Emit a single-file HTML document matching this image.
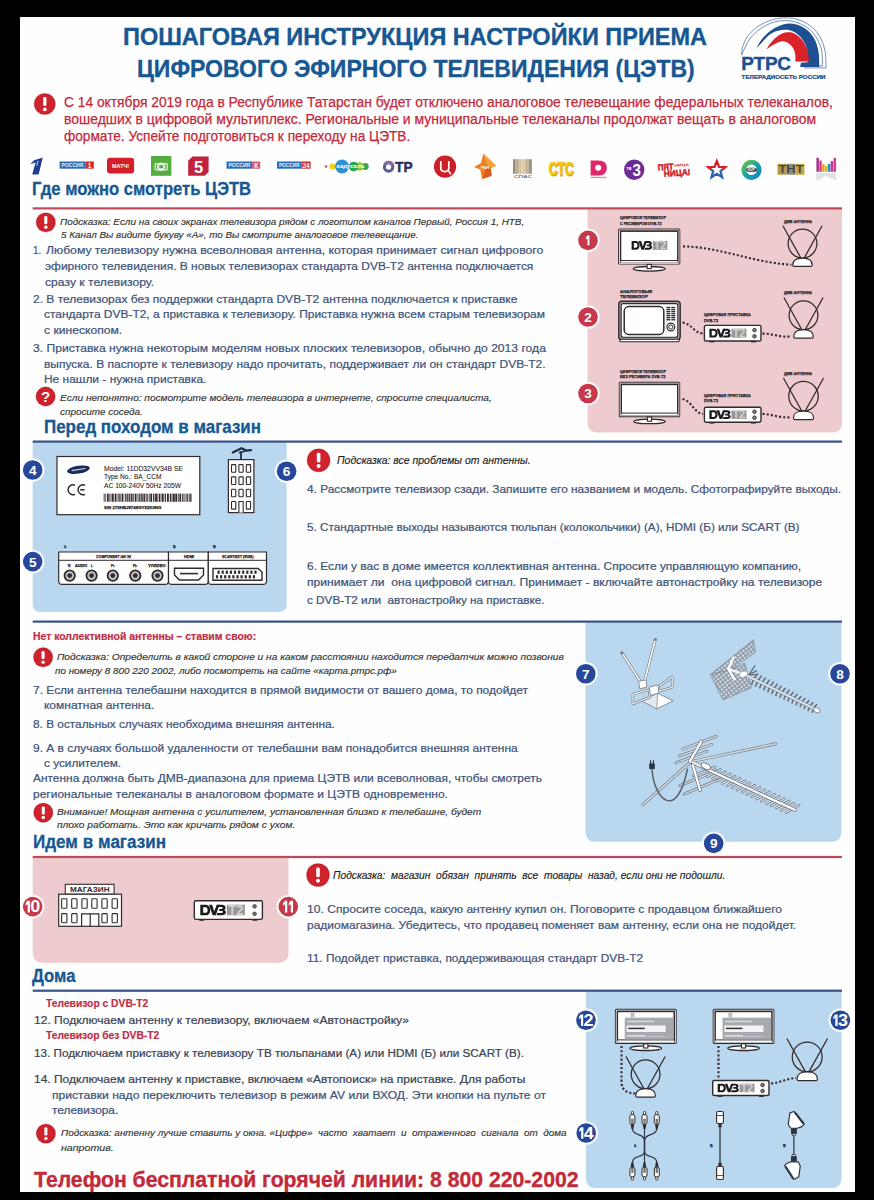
<!DOCTYPE html><html lang="ru"><head><meta charset="utf-8"><title>Пошаговая инструкция настройки приема ЦЭТВ</title><style>
html,body{margin:0;padding:0;background:#000}
body{width:874px;height:1200px;position:relative;overflow:hidden;font-family:"Liberation Sans",sans-serif}
#pg{position:absolute;left:19.5px;top:17px;width:835.5px;height:1174.5px;background:#fefefe}
.t{position:absolute;white-space:pre;line-height:1;transform-origin:0 0;margin:0}
</style></head><body><div id="pg"></div>
<svg width="874" height="1200" viewBox="0 0 874 1200" style="position:absolute;left:0;top:0" font-family="Liberation Sans, sans-serif"><path d="M587.5,208.4H842V422.4Q842,432.4 832,432.4H597.5Q587.5,432.4 587.5,422.4Z" fill="#eecbcf"/><path d="M32.7,441.5H286.6V604Q286.6,612 278.6,612H40.7Q32.7,612 32.7,604Z" fill="#b9d7ef"/><path d="M585.5,621.6H841.4V831.8Q841.4,841.8 831.4,841.8H595.5Q585.5,841.8 585.5,831.8Z" fill="#b9d7ef"/><path d="M32.7,857H288.5V952.8Q288.5,962.8 278.5,962.8H42.7Q32.7,962.8 32.7,952.8Z" fill="#eecbcf"/><path d="M586,990.7H841.6V1178Q841.6,1188 831.6,1188H596Q586,1188 586,1178Z" fill="#b9d7ef"/><rect x="32.7" y="207.3" width="809.3" height="2.2" fill="#bd4a5a"/><rect x="32.7" y="440.5" width="809.3" height="2.2" fill="#3a5288"/><rect x="32.7" y="620.5" width="809.3" height="2.2" fill="#3a5288"/><rect x="32.7" y="855.9" width="809.3" height="2.2" fill="#bd4a5a"/><rect x="32.7" y="989.6" width="809.3" height="2.2" fill="#3a5288"/><g transform="translate(0,0.6)"><path d="M34.2,159.6L42.8,156.8L38.6,173.8H32.2L35.6,161.8L30.2,163.6Z" fill="#1c3f90"/><path d="M36.6,165.2L38.2,160.2" stroke="#fff" stroke-width="0.8"/><rect x="59.6" y="160.9" width="25.800000000000004" height="7.2" fill="#2b6cb4"/><rect x="85.4" y="160.9" width="8.399999999999991" height="7.2" fill="#d12b2b"/><text x="61.6" y="166.6" font-size="4.6" font-weight="bold" font-style="normal" fill="#e8f0fa" text-anchor="start" textLength="21.800000000000004" lengthAdjust="spacingAndGlyphs">РОССИЯ</text><text x="89.6" y="167.2" font-size="6.4" font-weight="bold" font-style="normal" fill="#fff" text-anchor="middle">1</text><rect x="107" y="157.2" width="27.1" height="15.6" rx="3.2" fill="#d3202a"/><text x="112" y="167.6" font-size="5.6" font-weight="bold" font-style="normal" fill="#fff" text-anchor="start" textLength="17.2" lengthAdjust="spacingAndGlyphs">МАТЧ!</text><rect x="151" y="155.4" width="20.4" height="19.8" fill="#55ad3f"/><circle cx="161.2" cy="166.2" r="4.2" fill="#e9f4e4"/><rect x="155.2" y="163" width="12" height="6.2" rx="0.8" fill="none" stroke="#e9f4e4" stroke-width="1.2"/><rect x="159.2" y="164.6" width="4" height="3" fill="#55ad3f"/><path d="M192.5,156H208.6V171.5L204.8,175.2H188.2V160.2Z" fill="#c3213e"/><text x="198.6" y="172.6" font-size="16.5" font-weight="bold" font-style="normal" fill="#fff" text-anchor="middle">5</text><rect x="226.5" y="160.9" width="25.69999999999999" height="7.2" fill="#2b6cb4"/><rect x="252.2" y="160.9" width="8.0" height="7.2" fill="#d8596a"/><text x="228.5" y="166.6" font-size="4.6" font-weight="bold" font-style="normal" fill="#e8f0fa" text-anchor="start" textLength="21.69999999999999" lengthAdjust="spacingAndGlyphs">РОССИЯ</text><text x="256.2" y="167.2" font-size="6.4" font-weight="bold" font-style="normal" fill="#fff" text-anchor="middle">К</text><rect x="277" y="160.9" width="24.5" height="7.2" fill="#2b6cb4"/><rect x="301.5" y="160.9" width="9.100000000000023" height="7.2" fill="#d12b2b"/><text x="279" y="166.6" font-size="4.6" font-weight="bold" font-style="normal" fill="#e8f0fa" text-anchor="start" textLength="20.5" lengthAdjust="spacingAndGlyphs">РОССИЯ</text><text x="306.05" y="167.2" font-size="6.4" font-weight="bold" font-style="normal" fill="#fff" text-anchor="middle">24</text><circle cx="326" cy="165.9" r="1.3" fill="#e23a8a"/><circle cx="332.5" cy="165.9" r="3.1" fill="#f4d21f"/><circle cx="365.3" cy="165.9" r="3.4" fill="#3aa64a"/><circle cx="359.6" cy="165.9" r="4.2" fill="#8cc63f"/><circle cx="353.6" cy="165.9" r="4.8" fill="#2aa750"/><circle cx="342" cy="165.9" r="6.9" fill="#2b90d6"/><text x="336.6" y="167.6" font-size="4.6" font-weight="bold" font-style="italic" fill="#fff" text-anchor="start" textLength="28" lengthAdjust="spacingAndGlyphs">карусель</text><circle cx="388.6" cy="166.4" r="4.2" fill="none" stroke="#5c5f8d" stroke-width="3.1"/><path d="M384.8,164A4.3,4.3 0 0 1 392.6,164.6" fill="none" stroke="#8a6aa8" stroke-width="3.1"/><text stroke="#2b2f5e" stroke-width="0.5" x="395" y="171.6" font-size="14.8" font-weight="bold" font-style="normal" fill="#2b2f5e" text-anchor="start" textLength="17.6" lengthAdjust="spacingAndGlyphs">ТР</text><circle cx="445" cy="166" r="11.1" fill="#cc2029"/><path d="M440.8,160.5V167.5Q440.8,171 444.8,171Q448.8,171 448.8,167.5V160.5M448.8,170.5L450.8,173.8" fill="none" stroke="#fff" stroke-width="1.7"/><path d="M483.4,153.1L496,165.1L490.9,167.6L491.6,175.2L482.1,178.3L480.2,168.9L473.9,166.4L480.9,162.6Z" fill="#ee7f1f"/><path d="M483.4,153.1L496,165.1L490.9,167.6L486.5,163Z" fill="#f6a23c"/><path d="M490.9,167.6L491.6,175.2L482.1,178.3L486,168.5Z" fill="#d85c18"/><text x="481" y="168.6" font-size="3.6" font-weight="bold" font-style="normal" fill="#fff" text-anchor="start" textLength="8" lengthAdjust="spacingAndGlyphs">РЕН</text><defs><linearGradient id="spas" x1="0" x2="1"><stop offset="0" stop-color="#8a8378"/><stop offset="0.5" stop-color="#e7cfa0"/><stop offset="1" stop-color="#8f8779"/></linearGradient></defs><rect x="513" y="158.6" width="18.8" height="14.6" fill="url(#spas)"/><rect x="515.6" y="158.6" width="0.8" height="14.6" fill="#f3ead8" opacity="0.7"/><rect x="518.6" y="158.6" width="0.8" height="14.6" fill="#f3ead8" opacity="0.7"/><rect x="521.6" y="158.6" width="0.8" height="14.6" fill="#f3ead8" opacity="0.7"/><rect x="524.6" y="158.6" width="0.8" height="14.6" fill="#f3ead8" opacity="0.7"/><rect x="527.6" y="158.6" width="0.8" height="14.6" fill="#f3ead8" opacity="0.7"/><text x="514" y="177" font-size="3.8" font-weight="bold" font-style="normal" fill="#77716a" text-anchor="start" textLength="18" lengthAdjust="spacingAndGlyphs">СПАС</text><text stroke="#cf9a00" stroke-width="0.8" x="549.2" y="175.2" font-size="17.6" font-weight="bold" font-style="normal" fill="#cf9a00" text-anchor="start" textLength="25" lengthAdjust="spacingAndGlyphs">СТС</text><text stroke="#f4c81a" stroke-width="0.6" x="548.6" y="174.4" font-size="17.6" font-weight="bold" font-style="normal" fill="#f4c81a" text-anchor="start" textLength="25" lengthAdjust="spacingAndGlyphs">СТС</text><path d="M590.6,160H598.4Q606.8,160 606.8,167.4Q606.8,174.8 598.4,174.8H590.6Z" fill="#e1256c"/><circle cx="598.2" cy="167.2" r="3" fill="#fff"/><rect x="590.6" y="176.2" width="16" height="1.3" fill="#e68ab0"/><circle cx="634.2" cy="169.2" r="10.2" fill="#6b2d92"/><text x="632.4" y="175.2" font-size="16" font-weight="bold" font-style="normal" fill="#fff" text-anchor="start" textLength="8.4" lengthAdjust="spacingAndGlyphs">3</text><text x="626.6" y="169.8" font-size="4.6" font-weight="bold" font-style="normal" fill="#fff" text-anchor="start" textLength="5" lengthAdjust="spacingAndGlyphs">тв</text><g transform="rotate(-4 673 169) translate(1,0.6)"><text stroke="#d0212b" stroke-width="0.5" x="657" y="168.2" font-size="8.6" font-weight="bold" font-style="normal" fill="#d0212b" text-anchor="start" textLength="15.6" lengthAdjust="spacingAndGlyphs">ПЯТ</text><text x="673.6" y="165.6" font-size="3.6" font-weight="bold" font-style="normal" fill="#d0212b" text-anchor="start" textLength="15" lengthAdjust="spacingAndGlyphs">НИЦА</text><text stroke="#d0212b" stroke-width="0.5" x="662.6" y="175" font-size="8.6" font-weight="bold" font-style="normal" fill="#d0212b" text-anchor="start" textLength="26.6" lengthAdjust="spacingAndGlyphs">НИЦА!</text></g><clipPath id="sttop"><rect x="700" y="150" width="40" height="18.4"/></clipPath><clipPath id="stbot"><rect x="700" y="168.4" width="40" height="20"/></clipPath><polygon points="716.8,160.4 719.1,166.2 725.4,166.6 720.5,170.6 722.1,176.7 716.8,173.3 711.5,176.7 713.1,170.6 708.2,166.6 714.5,166.2" fill="none" stroke="#d3222a" stroke-width="2.3" clip-path="url(#sttop)"/><polygon points="716.8,160.4 719.1,166.2 725.4,166.6 720.5,170.6 722.1,176.7 716.8,173.3 711.5,176.7 713.1,170.6 708.2,166.6 714.5,166.2" fill="none" stroke="#2a62ad" stroke-width="2.3" clip-path="url(#stbot)"/><defs><linearGradient id="mir" x1="0" x2="1" y1="0" y2="1"><stop offset="0" stop-color="#6cc04a"/><stop offset="0.5" stop-color="#12a7a0"/><stop offset="1" stop-color="#1a83c6"/></linearGradient></defs><circle cx="751.5" cy="169.2" r="7.7" fill="#fff" stroke="url(#mir)" stroke-width="4.8"/><rect x="746.2" y="167.2" width="10.6" height="4" rx="2" fill="#26333b"/><text x="747.6" y="170.4" font-size="3.4" font-weight="bold" font-style="normal" fill="#e8eef0" text-anchor="start" textLength="7.8" lengthAdjust="spacingAndGlyphs">МИР</text><rect x="777.5" y="163.2" width="9" height="11" fill="#b39a45"/><rect x="786.5" y="163.2" width="9" height="11" fill="#8e8e86"/><rect x="795.5" y="163.2" width="9" height="11" fill="#c2a84a"/><text x="778.4" y="172.6" font-size="10.4" font-weight="bold" font-style="normal" fill="#4a463c" text-anchor="start" textLength="25.2" lengthAdjust="spacingAndGlyphs">ТНТ</text><rect x="816.40" y="157.20" width="2.5" height="14" fill="#a9308c"/><rect x="816.40" y="172.6" width="2.5" height="7.00" fill="#dcdee1"/><rect x="819.26" y="160.00" width="2.5" height="11.2" fill="#d93a8a"/><rect x="819.26" y="172.6" width="2.5" height="5.60" fill="#dcdee1"/><rect x="822.12" y="163.60" width="2.5" height="7.6" fill="#f0a322"/><rect x="822.12" y="172.6" width="2.5" height="3.80" fill="#dcdee1"/><rect x="824.98" y="165.20" width="2.5" height="6" fill="#b4cc32"/><rect x="824.98" y="172.6" width="2.5" height="3.00" fill="#dcdee1"/><rect x="827.84" y="163.20" width="2.5" height="8" fill="#3b82c2"/><rect x="827.84" y="172.6" width="2.5" height="4.00" fill="#dcdee1"/><rect x="830.70" y="160.40" width="2.5" height="10.8" fill="#bf3a92"/><rect x="830.70" y="172.6" width="2.5" height="5.40" fill="#dcdee1"/><rect x="833.56" y="157.20" width="2.5" height="14" fill="#d93a8a"/><rect x="833.56" y="172.6" width="2.5" height="7.00" fill="#dcdee1"/></g><path d="M741.6,55.0C741.8,53.7 741.7,49.9 742.7,46.7C743.8,43.5 745.4,39.2 748.0,35.8C750.6,32.4 754.6,28.8 758.4,26.2C762.3,23.6 767.0,21.5 771.3,20.1C775.5,18.7 779.8,18.0 784.1,17.9C788.3,17.7 792.6,17.9 796.9,19.2C801.2,20.4 806.0,22.6 809.7,25.4C813.4,28.2 816.8,31.7 819.3,35.8C821.8,40.0 823.8,44.9 824.9,50.2C826.0,55.6 825.9,64.9 826.0,67.9L804.9,67.9L804.9,65.9L822.5,65.9C822.4,63.3 822.6,55.0 821.6,50.2C820.5,45.4 818.5,40.9 816.1,37.1C813.7,33.3 810.8,30.0 807.3,27.5C803.8,25.0 799.2,23.2 795.3,22.0C791.4,20.9 787.9,20.5 784.1,20.6C780.2,20.7 776.1,21.3 772.1,22.7C768.1,24.1 763.6,26.5 760.0,29.1C756.4,31.7 753.1,34.9 750.4,38.2C747.8,41.5 745.8,46.2 744.3,49.0C742.9,51.8 742.1,54.0 741.6,55.0" fill="#fff" stroke="#54779f" stroke-width="0.8" stroke-linejoin="round"/><path d="M756.5,47.8C757.4,46.4 759.5,42.0 762.0,39.0C764.4,36.1 767.6,32.7 771.3,30.2C774.9,27.8 780.1,25.3 784.1,24.3C788.1,23.3 791.5,23.4 795.3,24.3C799.0,25.1 803.3,27.0 806.5,29.4C809.7,31.9 812.5,35.3 814.5,39.0C816.5,42.8 817.7,47.2 818.5,51.8C819.3,56.5 819.2,64.5 819.3,67.1L800.1,67.1L800.9,62.7L807.8,62.3C807.8,61.1 808.1,57.8 807.8,55.0C807.4,52.2 807.0,48.5 805.7,45.4C804.4,42.4 802.4,39.0 800.1,36.6C797.8,34.2 794.8,32.2 792.1,31.0C789.4,29.9 787.0,29.6 784.1,29.7C781.1,29.9 777.4,30.5 774.5,31.8C771.5,33.1 768.7,35.4 766.5,37.4C764.2,39.4 762.5,42.1 760.8,43.8C759.2,45.6 757.2,47.2 756.5,47.8Z" fill="#1d4f91"/><path d="M766.5,49.4C767.3,48.2 769.1,44.6 771.3,42.2C773.4,39.8 776.6,36.7 779.3,35.0C781.9,33.4 784.6,32.5 787.3,32.3C789.9,32.1 792.6,32.4 795.3,33.9C798.0,35.4 801.2,38.4 803.3,41.4C805.4,44.4 806.8,48.5 807.8,51.8C808.7,55.2 808.8,59.9 809.1,61.5L795.3,61.5C795.3,60.4 795.7,57.3 795.3,55.0C794.9,52.8 794.2,49.9 792.9,47.8C791.5,45.8 789.3,43.6 787.3,42.6C785.3,41.5 783.1,41.1 780.9,41.4C778.6,41.8 776.1,43.3 773.7,44.6C771.3,46.0 767.7,48.6 766.5,49.4Z" fill="#da222b"/><text x="741.2" y="69.7" font-size="19" font-weight="bold" fill="#1d4f91" stroke="#1d4f91" stroke-width="0.4" textLength="49.6" lengthAdjust="spacingAndGlyphs">РТРС</text><text x="741.6" y="79" font-size="4.7" font-weight="bold" fill="#1d4f91" stroke="#1d4f91" stroke-width="0.2" textLength="84" lengthAdjust="spacingAndGlyphs">ТЕЛЕРАДИОСЕТЬ РОССИИ</text><circle cx="44.8" cy="104" r="11.20" fill="#f3cfd0"/><circle cx="44.8" cy="104" r="10.6" fill="#b9202b"/><circle cx="44.8" cy="104" r="9.70" fill="#d0222c"/><rect x="43.14" y="97.10" width="3.33" height="8.87" rx="1.36" fill="#fff"/><circle cx="44.8" cy="109.30" r="1.85" fill="#fff"/><circle cx="45.8" cy="222.4" r="10.30" fill="#f3cfd0"/><circle cx="45.8" cy="222.4" r="9.7" fill="#b9202b"/><circle cx="45.8" cy="222.4" r="8.80" fill="#d0222c"/><rect x="44.28" y="216.08" width="3.05" height="8.12" rx="1.24" fill="#fff"/><circle cx="45.8" cy="227.25" r="1.69" fill="#fff"/><circle cx="45.6" cy="396.5" r="10.30" fill="#f3cfd0"/><circle cx="45.6" cy="396.5" r="9.7" fill="#b9202b"/><circle cx="45.6" cy="396.5" r="8.80" fill="#d0222c"/><text x="45.6" y="401.91" font-size="15.23" font-weight="bold" fill="#fff" text-anchor="middle">?</text><circle cx="318.6" cy="460.3" r="12.10" fill="#f3cfd0"/><circle cx="318.6" cy="460.3" r="11.5" fill="#b9202b"/><circle cx="318.6" cy="460.3" r="10.60" fill="#d0222c"/><rect x="316.79" y="452.81" width="3.61" height="9.63" rx="1.47" fill="#fff"/><circle cx="318.6" cy="466.05" r="2.01" fill="#fff"/><circle cx="43.1" cy="657.3" r="10.30" fill="#f3cfd0"/><circle cx="43.1" cy="657.3" r="9.7" fill="#b9202b"/><circle cx="43.1" cy="657.3" r="8.80" fill="#d0222c"/><rect x="41.58" y="650.98" width="3.05" height="8.12" rx="1.24" fill="#fff"/><circle cx="43.1" cy="662.15" r="1.69" fill="#fff"/><circle cx="43.3" cy="812.7" r="10.30" fill="#f3cfd0"/><circle cx="43.3" cy="812.7" r="9.7" fill="#b9202b"/><circle cx="43.3" cy="812.7" r="8.80" fill="#d0222c"/><rect x="41.78" y="806.38" width="3.05" height="8.12" rx="1.24" fill="#fff"/><circle cx="43.3" cy="817.55" r="1.69" fill="#fff"/><circle cx="318" cy="875" r="12.10" fill="#f3cfd0"/><circle cx="318" cy="875" r="11.5" fill="#b9202b"/><circle cx="318" cy="875" r="10.60" fill="#d0222c"/><rect x="316.19" y="867.51" width="3.61" height="9.63" rx="1.47" fill="#fff"/><circle cx="318" cy="880.75" r="2.01" fill="#fff"/><circle cx="45.9" cy="1133.6" r="10.30" fill="#f3cfd0"/><circle cx="45.9" cy="1133.6" r="9.7" fill="#b9202b"/><circle cx="45.9" cy="1133.6" r="8.80" fill="#d0222c"/><rect x="44.38" y="1127.28" width="3.05" height="8.12" rx="1.24" fill="#fff"/><circle cx="45.9" cy="1138.45" r="1.69" fill="#fff"/><rect x="618.1" y="228.5" width="62.19999999999993" height="36.10000000000002" rx="1.5" fill="#322a2d"/><rect x="619.0" y="229.4" width="60.399999999999935" height="34.300000000000026" rx="1" fill="#fff"/><rect x="619.8000000000001" y="230.2" width="58.79999999999993" height="32.700000000000024" fill="#322a2d"/><rect x="621.3000000000001" y="231.9" width="55.79999999999993" height="28.100000000000023" fill="#fff"/><rect x="620.7" y="261.0" width="56.99999999999993" height="1.6" fill="#fff"/><ellipse cx="649.2" cy="268.8" rx="15.86" ry="2.3" fill="#fff" stroke="#322a2d" stroke-width="1.3"/><rect x="647.1" y="264.40000000000003" width="4.2" height="4.2" fill="#fff" stroke="#322a2d" stroke-width="1.1"/><g transform="translate(631.60,240.95) scale(0.8173,0.8189)"><path fill-rule="evenodd" d="M0,0H5.6C11.2,0 11.2,10.8 5.6,10.8H0ZM2.8,2.5V8.3H5.2C7.9,8.3 7.9,2.5 5.2,2.5Z" fill="#1c1c1c"/><path d="M8.6,0H11.6L13.7,6.9L16,0H18.8L15.2,10.8H12.1Z" fill="#1c1c1c"/><path d="M17.6,0H21.2C25.6,0 25.8,4.9 23,5.4C26.2,5.9 26,10.8 21.2,10.8H15.9L16.7,8.4H20.9C22.9,8.4 22.9,6.5 20.9,6.5H18.6V4.3H20.7C22.5,4.3 22.5,2.4 20.7,2.4H16.8Z" fill="#1c1c1c"/></g><rect x="652.92" y="240.95" width="14.44" height="8.84" fill="#979797"/><text x="654.08" y="249.27" font-size="11.54" font-weight="bold" fill="#d2d2d2" textLength="12.13" lengthAdjust="spacingAndGlyphs">T2</text><path d="M683,246.4C720,247 750,262 791.5,264.8" fill="none" stroke="#322a2d" stroke-width="2.1" stroke-dasharray="2.1 2.1"/><circle cx="802.5" cy="243.60" r="14.40" fill="none" stroke="#322a2d" stroke-width="1.25"/><path d="M782.90,225.8L801.10,258.50M822.10,225.8L803.90,258.50" stroke="#322a2d" stroke-width="1.25" fill="none"/><path d="M792.70,265.10C792.70,259.00 797.11,258.00 802.5,258.00C807.89,258.00 812.30,259.00 812.30,265.10Q812.30,266.3 811.10,266.3H793.90Q792.70,266.3 792.70,265.10Z" fill="#fff" stroke="#322a2d" stroke-width="1.25"/><rect x="618.8" y="301.2" width="61.40000000000009" height="38.5" rx="3" fill="#a9a3a5" stroke="#322a2d" stroke-width="1.4"/><rect x="621.1999999999999" y="303.59999999999997" width="56.600000000000094" height="33.7" rx="2" fill="#fff" stroke="#322a2d" stroke-width="1.1"/><rect x="624.1999999999999" y="306.59999999999997" width="39.60" height="27.8" rx="4.5" fill="#fff" stroke="#322a2d" stroke-width="1.5"/><rect x="666.38" y="306.80" width="3.99" height="1.35" fill="#322a2d"/><rect x="671.30" y="306.80" width="3.99" height="1.35" fill="#322a2d"/><rect x="666.38" y="308.85" width="3.99" height="1.35" fill="#322a2d"/><rect x="671.30" y="308.85" width="3.99" height="1.35" fill="#322a2d"/><rect x="666.38" y="310.90" width="3.99" height="1.35" fill="#322a2d"/><rect x="671.30" y="310.90" width="3.99" height="1.35" fill="#322a2d"/><rect x="666.38" y="312.95" width="3.99" height="1.35" fill="#322a2d"/><rect x="671.30" y="312.95" width="3.99" height="1.35" fill="#322a2d"/><rect x="666.38" y="315.00" width="3.99" height="1.35" fill="#322a2d"/><rect x="671.30" y="315.00" width="3.99" height="1.35" fill="#322a2d"/><rect x="666.38" y="317.05" width="3.99" height="1.35" fill="#322a2d"/><rect x="671.30" y="317.05" width="3.99" height="1.35" fill="#322a2d"/><rect x="666.38" y="319.10" width="3.99" height="1.35" fill="#322a2d"/><rect x="671.30" y="319.10" width="3.99" height="1.35" fill="#322a2d"/><circle cx="670.81" cy="327.03" r="3.9" fill="#fff" stroke="#322a2d" stroke-width="1.2"/><circle cx="670.81" cy="327.03" r="2.1" fill="#fff" stroke="#322a2d" stroke-width="1"/><rect x="619.8" y="339.2" width="59.40000000000009" height="2.6" rx="1" fill="#fff" stroke="#322a2d" stroke-width="1.1"/><rect x="709.4" y="340" width="5" height="2.4" fill="#322a2d"/><rect x="751" y="340" width="5" height="2.4" fill="#322a2d"/><rect x="704.4" y="325.4" width="56.60000000000002" height="15.600000000000023" rx="1.6" fill="#fff" stroke="#322a2d" stroke-width="1.4"/><g transform="translate(709.38,328.68) scale(0.8472,0.8233)"><path fill-rule="evenodd" d="M0,0H5.6C11.2,0 11.2,10.8 5.6,10.8H0ZM2.8,2.5V8.3H5.2C7.9,8.3 7.9,2.5 5.2,2.5Z" fill="#1c1c1c"/><path d="M8.6,0H11.6L13.7,6.9L16,0H18.8L15.2,10.8H12.1Z" fill="#1c1c1c"/><path d="M17.6,0H21.2C25.6,0 25.8,4.9 23,5.4C26.2,5.9 26,10.8 21.2,10.8H15.9L16.7,8.4H20.9C22.9,8.4 22.9,6.5 20.9,6.5H18.6V4.3H20.7C22.5,4.3 22.5,2.4 20.7,2.4H16.8Z" fill="#1c1c1c"/></g><rect x="731.47" y="328.68" width="14.99" height="8.89" fill="#979797"/><text x="732.67" y="337.03" font-size="11.60" font-weight="bold" fill="#d2d2d2" textLength="12.59" lengthAdjust="spacingAndGlyphs">T2</text><circle cx="754.49" cy="330.08" r="1.8" fill="#7a7a7a" stroke="#322a2d" stroke-width="0.8"/><circle cx="754.49" cy="336.32" r="1.8" fill="#7a7a7a" stroke="#322a2d" stroke-width="0.8"/><path d="M682.5,322.5C692,324 694,333 703,333.4" fill="none" stroke="#322a2d" stroke-width="2.1" stroke-dasharray="2.1 2.1"/><path d="M762.5,333.6C772,333.4 780,337.6 791,336.4" fill="none" stroke="#322a2d" stroke-width="2.1" stroke-dasharray="2.1 2.1"/><circle cx="803.5" cy="315.30" r="14.40" fill="none" stroke="#322a2d" stroke-width="1.25"/><path d="M783.90,297.5L802.10,330.20M823.10,297.5L804.90,330.20" stroke="#322a2d" stroke-width="1.25" fill="none"/><path d="M793.70,336.80C793.70,330.70 798.11,329.70 803.5,329.70C808.89,329.70 813.30,330.70 813.30,336.80Q813.30,338 812.10,338H794.90Q793.70,338 793.70,336.80Z" fill="#fff" stroke="#322a2d" stroke-width="1.25"/><rect x="618.8" y="381.8" width="61.40000000000009" height="35.39999999999998" rx="1.5" fill="#322a2d"/><rect x="619.6999999999999" y="382.7" width="59.600000000000094" height="33.59999999999998" rx="1" fill="#fff"/><rect x="620.5" y="383.5" width="58.00000000000009" height="31.99999999999998" fill="#322a2d"/><rect x="622.0" y="385.2" width="55.00000000000009" height="27.399999999999977" fill="#fff"/><rect x="621.4" y="413.59999999999997" width="56.20000000000009" height="1.6" fill="#fff"/><ellipse cx="649.5" cy="421.4" rx="15.66" ry="2.3" fill="#fff" stroke="#322a2d" stroke-width="1.3"/><rect x="647.4" y="417.0" width="4.2" height="4.2" fill="#fff" stroke="#322a2d" stroke-width="1.1"/><rect x="709.4" y="421.2" width="5" height="2.4" fill="#322a2d"/><rect x="751" y="421.2" width="5" height="2.4" fill="#322a2d"/><rect x="704.4" y="407.2" width="56.60000000000002" height="15.0" rx="1.6" fill="#fff" stroke="#322a2d" stroke-width="1.4"/><g transform="translate(709.38,410.35) scale(0.8472,0.7917)"><path fill-rule="evenodd" d="M0,0H5.6C11.2,0 11.2,10.8 5.6,10.8H0ZM2.8,2.5V8.3H5.2C7.9,8.3 7.9,2.5 5.2,2.5Z" fill="#1c1c1c"/><path d="M8.6,0H11.6L13.7,6.9L16,0H18.8L15.2,10.8H12.1Z" fill="#1c1c1c"/><path d="M17.6,0H21.2C25.6,0 25.8,4.9 23,5.4C26.2,5.9 26,10.8 21.2,10.8H15.9L16.7,8.4H20.9C22.9,8.4 22.9,6.5 20.9,6.5H18.6V4.3H20.7C22.5,4.3 22.5,2.4 20.7,2.4H16.8Z" fill="#1c1c1c"/></g><rect x="731.47" y="410.35" width="14.99" height="8.55" fill="#979797"/><text x="732.67" y="418.39" font-size="11.15" font-weight="bold" fill="#d2d2d2" textLength="12.59" lengthAdjust="spacingAndGlyphs">T2</text><circle cx="754.49" cy="411.70" r="1.8" fill="#7a7a7a" stroke="#322a2d" stroke-width="0.8"/><circle cx="754.49" cy="417.70" r="1.8" fill="#7a7a7a" stroke="#322a2d" stroke-width="0.8"/><path d="M682.5,399C692,401 694,413 703,414" fill="none" stroke="#322a2d" stroke-width="2.1" stroke-dasharray="2.1 2.1"/><path d="M762.5,414C772,414 780,418.5 791,417.2" fill="none" stroke="#322a2d" stroke-width="2.1" stroke-dasharray="2.1 2.1"/><circle cx="803.5" cy="396.24" r="14.76" fill="none" stroke="#322a2d" stroke-width="1.25"/><path d="M783.42,378L802.07,411.50M823.58,378L804.93,411.50" stroke="#322a2d" stroke-width="1.25" fill="none"/><path d="M793.46,418.30C793.46,412.00 797.98,411.00 803.5,411.00C809.02,411.00 813.54,412.00 813.54,418.30Q813.54,419.5 812.34,419.5H794.66Q793.46,419.5 793.46,418.30Z" fill="#fff" stroke="#322a2d" stroke-width="1.25"/><circle cx="588" cy="240.4" r="12.100000000000001" fill="#fff" opacity="0.5"/><circle cx="588" cy="240.4" r="11.200000000000001" fill="#fff"/><circle cx="588" cy="240.4" r="9.8" fill="#c6394b"/><path d="M587.24,235.46H589.45V245.34H587.52V238.13L585.79,239.61V237.83Z" fill="#fff"/><circle cx="588" cy="317" r="12.100000000000001" fill="#fff" opacity="0.5"/><circle cx="588" cy="317" r="11.200000000000001" fill="#fff"/><circle cx="588" cy="317" r="9.8" fill="#c6394b"/><text x="588" y="321.9" font-size="13.6" font-weight="bold" fill="#fff" text-anchor="middle">2</text><circle cx="588" cy="393.5" r="12.100000000000001" fill="#fff" opacity="0.5"/><circle cx="588" cy="393.5" r="11.200000000000001" fill="#fff"/><circle cx="588" cy="393.5" r="9.8" fill="#c6394b"/><text x="588" y="398.4" font-size="13.6" font-weight="bold" fill="#fff" text-anchor="middle">3</text><rect x="57" y="456.5" width="142.8" height="58.200000000000045" fill="#fff" stroke="#322a2d" stroke-width="1.2"/><ellipse cx="78.4" cy="469.7" rx="11.5" ry="3.9" fill="#1d2a55" transform="rotate(-9 78.4 469.7)"/><rect x="71.5" y="469" width="14" height="1.2" fill="#cfd6ea" transform="rotate(-9 78.4 469.7)"/><path d="M75,485.2A5,5 0 1 0 75,494.4" fill="none" stroke="#322a2d" stroke-width="1.5"/><path d="M85,485.2A5,5 0 1 0 85,494.4M80.2,489.8H84.5" fill="none" stroke="#322a2d" stroke-width="1.5"/><rect x="103.70" y="493.6" width="0.9" height="8.2" fill="#322a2d"/><rect x="105.30" y="493.6" width="0.6" height="8.2" fill="#322a2d"/><rect x="106.90" y="493.6" width="1.8" height="8.2" fill="#322a2d"/><rect x="109.40" y="493.6" width="0.9" height="8.2" fill="#322a2d"/><rect x="110.80" y="493.6" width="0.6" height="8.2" fill="#322a2d"/><rect x="111.90" y="493.6" width="1.8" height="8.2" fill="#322a2d"/><rect x="114.70" y="493.6" width="1.3" height="8.2" fill="#322a2d"/><rect x="116.50" y="493.6" width="0.9" height="8.2" fill="#322a2d"/><rect x="118.40" y="493.6" width="1.3" height="8.2" fill="#322a2d"/><rect x="120.40" y="493.6" width="0.9" height="8.2" fill="#322a2d"/><rect x="121.80" y="493.6" width="1.3" height="8.2" fill="#322a2d"/><rect x="123.60" y="493.6" width="0.6" height="8.2" fill="#322a2d"/><rect x="125.20" y="493.6" width="1.3" height="8.2" fill="#322a2d"/><rect x="127.20" y="493.6" width="0.9" height="8.2" fill="#322a2d"/><rect x="128.60" y="493.6" width="1.3" height="8.2" fill="#322a2d"/><rect x="130.60" y="493.6" width="1.3" height="8.2" fill="#322a2d"/><rect x="132.40" y="493.6" width="1.3" height="8.2" fill="#322a2d"/><rect x="134.70" y="493.6" width="1.8" height="8.2" fill="#322a2d"/><rect x="137.50" y="493.6" width="0.9" height="8.2" fill="#322a2d"/><rect x="138.90" y="493.6" width="0.9" height="8.2" fill="#322a2d"/><rect x="140.50" y="493.6" width="1.3" height="8.2" fill="#322a2d"/><rect x="142.30" y="493.6" width="1.3" height="8.2" fill="#322a2d"/><rect x="144.10" y="493.6" width="1.3" height="8.2" fill="#322a2d"/><rect x="146.40" y="493.6" width="1.3" height="8.2" fill="#322a2d"/><rect x="148.70" y="493.6" width="0.9" height="8.2" fill="#322a2d"/><rect x="150.30" y="493.6" width="1.8" height="8.2" fill="#322a2d"/><rect x="153.10" y="493.6" width="1.3" height="8.2" fill="#322a2d"/><rect x="155.10" y="493.6" width="1.8" height="8.2" fill="#322a2d"/><rect x="157.40" y="493.6" width="0.9" height="8.2" fill="#322a2d"/><rect x="159.00" y="493.6" width="1.3" height="8.2" fill="#322a2d"/><rect x="160.80" y="493.6" width="0.6" height="8.2" fill="#322a2d"/><rect x="161.90" y="493.6" width="1.8" height="8.2" fill="#322a2d"/><rect x="164.70" y="493.6" width="1.3" height="8.2" fill="#322a2d"/><rect x="167.00" y="493.6" width="1.8" height="8.2" fill="#322a2d"/><rect x="169.80" y="493.6" width="1.3" height="8.2" fill="#322a2d"/><rect x="171.60" y="493.6" width="0.9" height="8.2" fill="#322a2d"/><rect x="173.00" y="493.6" width="1.8" height="8.2" fill="#322a2d"/><rect x="175.30" y="493.6" width="1.8" height="8.2" fill="#322a2d"/><rect x="177.80" y="493.6" width="0.9" height="8.2" fill="#322a2d"/><rect x="179.40" y="493.6" width="1.8" height="8.2" fill="#322a2d"/><rect x="182.20" y="493.6" width="1.3" height="8.2" fill="#322a2d"/><rect x="184.50" y="493.6" width="0.9" height="8.2" fill="#322a2d"/><rect x="186.10" y="493.6" width="0.6" height="8.2" fill="#322a2d"/><rect x="187.20" y="493.6" width="0.9" height="8.2" fill="#322a2d"/><rect x="188.80" y="493.6" width="0.9" height="8.2" fill="#322a2d"/><rect x="190.20" y="493.6" width="1.3" height="8.2" fill="#322a2d"/><rect x="228.4" y="459.6" width="25.5" height="53.0" fill="#fff" stroke="#322a2d" stroke-width="1.2"/><rect x="231.5" y="464.6" width="4.3" height="7.6" rx="0.7" fill="#fff" stroke="#322a2d" stroke-width="1.1"/><rect x="238.9" y="464.6" width="4.3" height="7.6" rx="0.7" fill="#fff" stroke="#322a2d" stroke-width="1.1"/><rect x="246.3" y="464.6" width="4.3" height="7.6" rx="0.7" fill="#fff" stroke="#322a2d" stroke-width="1.1"/><rect x="231.5" y="476.9" width="4.3" height="7.6" rx="0.7" fill="#fff" stroke="#322a2d" stroke-width="1.1"/><rect x="238.9" y="476.9" width="4.3" height="7.6" rx="0.7" fill="#fff" stroke="#322a2d" stroke-width="1.1"/><rect x="246.3" y="476.9" width="4.3" height="7.6" rx="0.7" fill="#fff" stroke="#322a2d" stroke-width="1.1"/><rect x="231.5" y="489.2" width="4.3" height="7.6" rx="0.7" fill="#fff" stroke="#322a2d" stroke-width="1.1"/><rect x="238.9" y="489.2" width="4.3" height="7.6" rx="0.7" fill="#fff" stroke="#322a2d" stroke-width="1.1"/><rect x="246.3" y="489.2" width="4.3" height="7.6" rx="0.7" fill="#fff" stroke="#322a2d" stroke-width="1.1"/><rect x="231.5" y="501.5" width="4.3" height="7.6" rx="0.7" fill="#fff" stroke="#322a2d" stroke-width="1.1"/><path d="M238.9,512.6V501.5H243.20000000000002V512.6" fill="#fff" stroke="#322a2d" stroke-width="1.1"/><rect x="246.3" y="501.5" width="4.3" height="7.6" rx="0.7" fill="#fff" stroke="#322a2d" stroke-width="1.1"/><path d="M241,459.6V451.5" stroke="#1f2b44" stroke-width="1.8" fill="none"/><path d="M232.8,452.4L241.5,448.2L246.2,450.6L251,450.2" stroke="#1f2b44" stroke-width="2.2" fill="none" stroke-linejoin="round" stroke-linecap="round"/><path d="M239.6,452.6L244.6,451.2" stroke="#1f2b44" stroke-width="1.6" fill="none" stroke-linecap="round"/><path d="M58.7,552H168.5V580.9Q168.5,584.4 165.0,584.4H62.2Q58.7,584.4 58.7,580.9Z" fill="#fff" stroke="#322a2d" stroke-width="1.2"/><path d="M58.7,560.3H168.5" stroke="#322a2d" stroke-width="1"/><path d="M168.5,552H208.3V580.9Q208.3,584.4 204.8,584.4H172.0Q168.5,584.4 168.5,580.9Z" fill="#fff" stroke="#322a2d" stroke-width="1.2"/><path d="M168.5,560.3H208.3" stroke="#322a2d" stroke-width="1"/><path d="M208.3,552H266.5V580.9Q266.5,584.4 263.0,584.4H211.8Q208.3,584.4 208.3,580.9Z" fill="#fff" stroke="#322a2d" stroke-width="1.2"/><path d="M208.3,560.3H266.5" stroke="#322a2d" stroke-width="1"/><circle cx="69.7" cy="575.6" r="5.2" fill="#bfc3c7" stroke="#322a2d" stroke-width="1.8"/><circle cx="69.7" cy="575.6" r="2.4" fill="#322a2d"/><circle cx="91.6" cy="575.6" r="5.2" fill="#bfc3c7" stroke="#322a2d" stroke-width="1.8"/><circle cx="91.6" cy="575.6" r="2.4" fill="#322a2d"/><circle cx="112.8" cy="575.6" r="5.2" fill="#bfc3c7" stroke="#322a2d" stroke-width="1.8"/><circle cx="112.8" cy="575.6" r="2.4" fill="#322a2d"/><circle cx="135.3" cy="575.6" r="5.2" fill="#bfc3c7" stroke="#322a2d" stroke-width="1.8"/><circle cx="135.3" cy="575.6" r="2.4" fill="#322a2d"/><circle cx="157.5" cy="575.6" r="5.2" fill="#bfc3c7" stroke="#322a2d" stroke-width="1.8"/><circle cx="157.5" cy="575.6" r="2.4" fill="#322a2d"/><path d="M174.5,568.2H203.5V575L198.5,580H179.5L174.5,575Z" fill="#fff" stroke="#322a2d" stroke-width="1.4"/><path d="M180,573.6H198" stroke="#322a2d" stroke-width="1.6"/><path d="M213,568.5H258L262,572V580.2H213Z" fill="#fff" stroke="#322a2d" stroke-width="1.4"/><rect x="217.50" y="570.6" width="2.2" height="3.2" fill="#322a2d"/><rect x="215.90" y="575.2" width="2.2" height="3.2" fill="#322a2d"/><rect x="221.60" y="570.6" width="2.2" height="3.2" fill="#322a2d"/><rect x="220.00" y="575.2" width="2.2" height="3.2" fill="#322a2d"/><rect x="225.70" y="570.6" width="2.2" height="3.2" fill="#322a2d"/><rect x="224.10" y="575.2" width="2.2" height="3.2" fill="#322a2d"/><rect x="229.80" y="570.6" width="2.2" height="3.2" fill="#322a2d"/><rect x="228.20" y="575.2" width="2.2" height="3.2" fill="#322a2d"/><rect x="233.90" y="570.6" width="2.2" height="3.2" fill="#322a2d"/><rect x="232.30" y="575.2" width="2.2" height="3.2" fill="#322a2d"/><rect x="238.00" y="570.6" width="2.2" height="3.2" fill="#322a2d"/><rect x="236.40" y="575.2" width="2.2" height="3.2" fill="#322a2d"/><rect x="242.10" y="570.6" width="2.2" height="3.2" fill="#322a2d"/><rect x="240.50" y="575.2" width="2.2" height="3.2" fill="#322a2d"/><rect x="246.20" y="570.6" width="2.2" height="3.2" fill="#322a2d"/><rect x="244.60" y="575.2" width="2.2" height="3.2" fill="#322a2d"/><rect x="250.30" y="570.6" width="2.2" height="3.2" fill="#322a2d"/><rect x="248.70" y="575.2" width="2.2" height="3.2" fill="#322a2d"/><rect x="254.40" y="570.6" width="2.2" height="3.2" fill="#322a2d"/><rect x="252.80" y="575.2" width="2.2" height="3.2" fill="#322a2d"/><circle cx="32.7" cy="470" r="12.100000000000001" fill="#fff" opacity="0.5"/><circle cx="32.7" cy="470" r="11.200000000000001" fill="#fff"/><circle cx="32.7" cy="470" r="9.8" fill="#27479a"/><text x="32.7" y="474.9" font-size="13.6" font-weight="bold" fill="#fff" text-anchor="middle">4</text><circle cx="32.7" cy="561.6" r="12.100000000000001" fill="#fff" opacity="0.5"/><circle cx="32.7" cy="561.6" r="11.200000000000001" fill="#fff"/><circle cx="32.7" cy="561.6" r="9.8" fill="#27479a"/><text x="32.7" y="566.5" font-size="13.6" font-weight="bold" fill="#fff" text-anchor="middle">5</text><circle cx="286.6" cy="471.3" r="12.100000000000001" fill="#fff" opacity="0.5"/><circle cx="286.6" cy="471.3" r="11.200000000000001" fill="#fff"/><circle cx="286.6" cy="471.3" r="9.8" fill="#27479a"/><text x="286.6" y="476.2" font-size="13.6" font-weight="bold" fill="#fff" text-anchor="middle">6</text><polygon points="657.6,687.2 672.2,676.9 672.2,687.2 659.9,691.1" fill="none" stroke="#7c8590" stroke-width="2.6" stroke-linejoin="round"/><polygon points="657.6,687.2 672.2,676.9 672.2,687.2 659.9,691.1" fill="none" stroke="#f4f6f8" stroke-width="1.1" stroke-linejoin="round"/><polygon points="642.0,700.9 657.6,693.2 673.2,700.9 656.7,708.9" fill="#fff" stroke="#7c8590" stroke-width="0.9" stroke-linejoin="round"/><polygon points="642.0,700.9 657.6,693.2 656.7,708.9" fill="#e4e9ee" stroke="#7c8590" stroke-width="0.7" stroke-linejoin="round"/><polygon points="632.9,694.1 632.9,704.0 649.4,697.3 649.4,689.7" fill="none" stroke="#7c8590" stroke-width="2.6" stroke-linejoin="round"/><polygon points="632.9,694.1 632.9,704.0 649.4,697.3 649.4,689.7" fill="none" stroke="#f4f6f8" stroke-width="1.1" stroke-linejoin="round"/><polygon points="649.4,686.9 658.5,684.9 658.5,693.2 650.3,695.5" fill="#fff" stroke="#7c8590" stroke-width="0.9" stroke-linejoin="round"/><line x1="621.9" y1="652.9" x2="640.9" y2="682.4" stroke="#7c8590" stroke-width="2.9" stroke-linecap="round"/><line x1="621.9" y1="652.9" x2="640.9" y2="682.4" stroke="#fff" stroke-width="1.5" stroke-linecap="round"/><circle cx="621.9" cy="652.9" r="1.5" fill="#7c8590"/><line x1="655.3" y1="639.6" x2="644.8" y2="680.2" stroke="#7c8590" stroke-width="2.9" stroke-linecap="round"/><line x1="655.3" y1="639.6" x2="644.8" y2="680.2" stroke="#fff" stroke-width="1.5" stroke-linecap="round"/><circle cx="655.3" cy="639.6" r="1.5" fill="#7c8590"/><polygon points="638.6,681.3 646.2,679.9 646.6,687.2 639.7,688.8" fill="#fff" stroke="#7c8590" stroke-width="0.9" stroke-linejoin="round"/><defs><pattern id="perf" width="3.4" height="3.4" patternUnits="userSpaceOnUse" patternTransform="rotate(-38)"><rect width="3.4" height="3.4" fill="#929daa"/><circle cx="1.7" cy="1.7" r="1.05" fill="#dfe6ee"/></pattern></defs><polygon points="710.4,674.6 753.5,639.7 755.3,652.3 730.5,669.9" fill="url(#perf)" stroke="#7c8794" stroke-width="0.7"/><polygon points="710.4,674.6 730.5,669.9 744.6,663.0 751.3,687.7 723.1,699.9" fill="url(#perf)" stroke="#7c8794" stroke-width="0.7"/><line x1="753.7" y1="679.1" x2="757.5" y2="674.1" stroke="#66727f" stroke-width="1.6" stroke-linecap="round"/><line x1="753.7" y1="679.1" x2="751.7" y2="684.1" stroke="#66727f" stroke-width="1.6" stroke-linecap="round"/><line x1="757.7" y1="681.0" x2="761.4" y2="676.1" stroke="#66727f" stroke-width="1.6" stroke-linecap="round"/><line x1="757.7" y1="681.0" x2="755.7" y2="686.0" stroke="#66727f" stroke-width="1.6" stroke-linecap="round"/><line x1="761.7" y1="683.0" x2="765.4" y2="678.1" stroke="#66727f" stroke-width="1.6" stroke-linecap="round"/><line x1="761.7" y1="683.0" x2="759.8" y2="687.8" stroke="#66727f" stroke-width="1.6" stroke-linecap="round"/><line x1="765.7" y1="685.0" x2="769.3" y2="680.2" stroke="#66727f" stroke-width="1.6" stroke-linecap="round"/><line x1="765.7" y1="685.0" x2="763.8" y2="689.7" stroke="#66727f" stroke-width="1.6" stroke-linecap="round"/><line x1="769.7" y1="686.9" x2="773.3" y2="682.2" stroke="#66727f" stroke-width="1.6" stroke-linecap="round"/><line x1="769.7" y1="686.9" x2="767.9" y2="691.6" stroke="#66727f" stroke-width="1.6" stroke-linecap="round"/><line x1="773.7" y1="688.9" x2="777.2" y2="684.2" stroke="#66727f" stroke-width="1.6" stroke-linecap="round"/><line x1="773.7" y1="688.9" x2="771.9" y2="693.5" stroke="#66727f" stroke-width="1.6" stroke-linecap="round"/><line x1="777.7" y1="690.8" x2="781.2" y2="686.3" stroke="#66727f" stroke-width="1.6" stroke-linecap="round"/><line x1="777.7" y1="690.8" x2="775.9" y2="695.4" stroke="#66727f" stroke-width="1.6" stroke-linecap="round"/><line x1="781.7" y1="692.8" x2="785.1" y2="688.3" stroke="#66727f" stroke-width="1.6" stroke-linecap="round"/><line x1="781.7" y1="692.8" x2="780.0" y2="697.2" stroke="#66727f" stroke-width="1.6" stroke-linecap="round"/><line x1="785.6" y1="694.7" x2="789.1" y2="690.3" stroke="#66727f" stroke-width="1.6" stroke-linecap="round"/><line x1="785.6" y1="694.7" x2="784.0" y2="699.1" stroke="#66727f" stroke-width="1.6" stroke-linecap="round"/><line x1="789.6" y1="696.7" x2="793.0" y2="692.4" stroke="#66727f" stroke-width="1.6" stroke-linecap="round"/><line x1="789.6" y1="696.7" x2="788.0" y2="701.0" stroke="#66727f" stroke-width="1.6" stroke-linecap="round"/><line x1="793.6" y1="698.6" x2="797.0" y2="694.4" stroke="#66727f" stroke-width="1.6" stroke-linecap="round"/><line x1="793.6" y1="698.6" x2="792.1" y2="702.9" stroke="#66727f" stroke-width="1.6" stroke-linecap="round"/><line x1="797.6" y1="700.6" x2="800.9" y2="696.4" stroke="#66727f" stroke-width="1.6" stroke-linecap="round"/><line x1="797.6" y1="700.6" x2="796.1" y2="704.8" stroke="#66727f" stroke-width="1.6" stroke-linecap="round"/><line x1="801.6" y1="702.6" x2="804.9" y2="698.5" stroke="#66727f" stroke-width="1.6" stroke-linecap="round"/><line x1="801.6" y1="702.6" x2="800.2" y2="706.6" stroke="#66727f" stroke-width="1.6" stroke-linecap="round"/><line x1="805.6" y1="704.5" x2="808.8" y2="700.5" stroke="#66727f" stroke-width="1.6" stroke-linecap="round"/><line x1="805.6" y1="704.5" x2="804.2" y2="708.5" stroke="#66727f" stroke-width="1.6" stroke-linecap="round"/><line x1="809.6" y1="706.5" x2="812.8" y2="702.5" stroke="#66727f" stroke-width="1.6" stroke-linecap="round"/><line x1="809.6" y1="706.5" x2="808.2" y2="710.4" stroke="#66727f" stroke-width="1.6" stroke-linecap="round"/><line x1="813.6" y1="708.4" x2="816.7" y2="704.6" stroke="#66727f" stroke-width="1.6" stroke-linecap="round"/><line x1="813.6" y1="708.4" x2="812.3" y2="712.3" stroke="#66727f" stroke-width="1.6" stroke-linecap="round"/><line x1="749.1" y1="674.6" x2="755.0" y2="665.7" stroke="#66727f" stroke-width="1.3" stroke-linecap="round"/><line x1="749.1" y1="674.6" x2="756.5" y2="670.9" stroke="#66727f" stroke-width="1.3" stroke-linecap="round"/><line x1="749.1" y1="674.6" x2="757.3" y2="674.6" stroke="#66727f" stroke-width="1.3" stroke-linecap="round"/><line x1="744.6" y1="674.6" x2="817.5" y2="710.3" stroke="#7c8794" stroke-width="3.0" stroke-linecap="round"/><line x1="744.6" y1="674.6" x2="817.5" y2="710.3" stroke="#e9eef3" stroke-width="1.8" stroke-linecap="round"/><ellipse cx="816.8" cy="710.3" rx="3.4" ry="2.3" fill="#fff" stroke="#7c8794" stroke-width="0.9" transform="rotate(24 816.8 710.3)"/><path d="M733.5,657.5L728.3,669.0L734.5,679.4" fill="none" stroke="#fff" stroke-width="2.2" stroke-linecap="round" stroke-linejoin="round"/><path d="M728.3,669.0L743.4,674.2" stroke="#fff" stroke-width="2" stroke-linecap="round"/><ellipse cx="743.4" cy="674.2" rx="4.4" ry="3" fill="#fff" stroke="#8b96a3" stroke-width="0.7" transform="rotate(-15 743.4 674.2)"/><line x1="682.9" y1="749.0" x2="716.1" y2="736.4" stroke="#737b85" stroke-width="2.8" stroke-linecap="round"/><line x1="682.9" y1="749.0" x2="716.1" y2="736.4" stroke="#d3dae1" stroke-width="1.4" stroke-linecap="round"/><line x1="679.5" y1="755.9" x2="711.5" y2="744.5" stroke="#737b85" stroke-width="2.8" stroke-linecap="round"/><line x1="679.5" y1="755.9" x2="711.5" y2="744.5" stroke="#d3dae1" stroke-width="1.4" stroke-linecap="round"/><line x1="676.1" y1="762.8" x2="707.0" y2="751.3" stroke="#737b85" stroke-width="2.8" stroke-linecap="round"/><line x1="676.1" y1="762.8" x2="707.0" y2="751.3" stroke="#d3dae1" stroke-width="1.4" stroke-linecap="round"/><line x1="693.2" y1="775.8" x2="715.0" y2="767.3" stroke="#737b85" stroke-width="2.8" stroke-linecap="round"/><line x1="693.2" y1="775.8" x2="715.0" y2="767.3" stroke="#d3dae1" stroke-width="1.4" stroke-linecap="round"/><line x1="680.0" y1="785.6" x2="716.1" y2="770.8" stroke="#737b85" stroke-width="2.8" stroke-linecap="round"/><line x1="680.0" y1="785.6" x2="716.1" y2="770.8" stroke="#d3dae1" stroke-width="1.4" stroke-linecap="round"/><line x1="684.1" y1="794.1" x2="720.7" y2="778.8" stroke="#737b85" stroke-width="2.8" stroke-linecap="round"/><line x1="684.1" y1="794.1" x2="720.7" y2="778.8" stroke="#d3dae1" stroke-width="1.4" stroke-linecap="round"/><line x1="690.9" y1="761.6" x2="775.6" y2="743.8" stroke="#737b85" stroke-width="3.0" stroke-linecap="round"/><line x1="690.9" y1="761.6" x2="775.6" y2="743.8" stroke="#d3dae1" stroke-width="1.6" stroke-linecap="round"/><line x1="690.9" y1="761.6" x2="642.9" y2="804.6" stroke="#737b85" stroke-width="3.0" stroke-linecap="round"/><line x1="690.9" y1="761.6" x2="642.9" y2="804.6" stroke="#d3dae1" stroke-width="1.6" stroke-linecap="round"/><line x1="707.5" y1="776.6" x2="720.5" y2="769.4" stroke="#737b85" stroke-width="2.5" stroke-linecap="round"/><line x1="707.5" y1="776.6" x2="720.5" y2="769.4" stroke="#d9e0e6" stroke-width="1.2" stroke-linecap="round"/><line x1="712.4" y1="778.9" x2="725.4" y2="771.7" stroke="#737b85" stroke-width="2.5" stroke-linecap="round"/><line x1="712.4" y1="778.9" x2="725.4" y2="771.7" stroke="#d9e0e6" stroke-width="1.2" stroke-linecap="round"/><line x1="717.3" y1="781.1" x2="730.3" y2="773.9" stroke="#737b85" stroke-width="2.5" stroke-linecap="round"/><line x1="717.3" y1="781.1" x2="730.3" y2="773.9" stroke="#d9e0e6" stroke-width="1.2" stroke-linecap="round"/><line x1="722.2" y1="783.4" x2="735.2" y2="776.2" stroke="#737b85" stroke-width="2.5" stroke-linecap="round"/><line x1="722.2" y1="783.4" x2="735.2" y2="776.2" stroke="#d9e0e6" stroke-width="1.2" stroke-linecap="round"/><line x1="727.1" y1="785.6" x2="740.1" y2="778.4" stroke="#737b85" stroke-width="2.5" stroke-linecap="round"/><line x1="727.1" y1="785.6" x2="740.1" y2="778.4" stroke="#d9e0e6" stroke-width="1.2" stroke-linecap="round"/><line x1="732.1" y1="787.9" x2="745.1" y2="780.7" stroke="#737b85" stroke-width="2.5" stroke-linecap="round"/><line x1="732.1" y1="787.9" x2="745.1" y2="780.7" stroke="#d9e0e6" stroke-width="1.2" stroke-linecap="round"/><line x1="737.0" y1="790.1" x2="750.0" y2="782.9" stroke="#737b85" stroke-width="2.5" stroke-linecap="round"/><line x1="737.0" y1="790.1" x2="750.0" y2="782.9" stroke="#d9e0e6" stroke-width="1.2" stroke-linecap="round"/><line x1="741.9" y1="792.4" x2="754.9" y2="785.2" stroke="#737b85" stroke-width="2.5" stroke-linecap="round"/><line x1="741.9" y1="792.4" x2="754.9" y2="785.2" stroke="#d9e0e6" stroke-width="1.2" stroke-linecap="round"/><line x1="746.8" y1="794.6" x2="759.8" y2="787.4" stroke="#737b85" stroke-width="2.5" stroke-linecap="round"/><line x1="746.8" y1="794.6" x2="759.8" y2="787.4" stroke="#d9e0e6" stroke-width="1.2" stroke-linecap="round"/><line x1="751.7" y1="796.9" x2="764.7" y2="789.7" stroke="#737b85" stroke-width="2.5" stroke-linecap="round"/><line x1="751.7" y1="796.9" x2="764.7" y2="789.7" stroke="#d9e0e6" stroke-width="1.2" stroke-linecap="round"/><line x1="756.6" y1="799.1" x2="769.6" y2="791.9" stroke="#737b85" stroke-width="2.5" stroke-linecap="round"/><line x1="756.6" y1="799.1" x2="769.6" y2="791.9" stroke="#d9e0e6" stroke-width="1.2" stroke-linecap="round"/><line x1="761.5" y1="801.4" x2="774.5" y2="794.2" stroke="#737b85" stroke-width="2.5" stroke-linecap="round"/><line x1="761.5" y1="801.4" x2="774.5" y2="794.2" stroke="#d9e0e6" stroke-width="1.2" stroke-linecap="round"/><line x1="766.4" y1="803.6" x2="779.4" y2="796.4" stroke="#737b85" stroke-width="2.5" stroke-linecap="round"/><line x1="766.4" y1="803.6" x2="779.4" y2="796.4" stroke="#d9e0e6" stroke-width="1.2" stroke-linecap="round"/><line x1="771.4" y1="805.9" x2="784.4" y2="798.7" stroke="#737b85" stroke-width="2.5" stroke-linecap="round"/><line x1="771.4" y1="805.9" x2="784.4" y2="798.7" stroke="#d9e0e6" stroke-width="1.2" stroke-linecap="round"/><line x1="776.3" y1="808.1" x2="789.3" y2="800.9" stroke="#737b85" stroke-width="2.5" stroke-linecap="round"/><line x1="776.3" y1="808.1" x2="789.3" y2="800.9" stroke="#d9e0e6" stroke-width="1.2" stroke-linecap="round"/><line x1="781.2" y1="810.4" x2="794.2" y2="803.2" stroke="#737b85" stroke-width="2.5" stroke-linecap="round"/><line x1="781.2" y1="810.4" x2="794.2" y2="803.2" stroke="#d9e0e6" stroke-width="1.2" stroke-linecap="round"/><line x1="786.1" y1="812.6" x2="799.1" y2="805.4" stroke="#737b85" stroke-width="2.5" stroke-linecap="round"/><line x1="786.1" y1="812.6" x2="799.1" y2="805.4" stroke="#d9e0e6" stroke-width="1.2" stroke-linecap="round"/><line x1="690.9" y1="761.6" x2="795.1" y2="810.1" stroke="#737b85" stroke-width="3.6" stroke-linecap="round"/><line x1="690.9" y1="761.6" x2="795.1" y2="810.1" stroke="#fff" stroke-width="2.2" stroke-linecap="round"/><line x1="701.2" y1="741.5" x2="689.8" y2="761.6" stroke="#737b85" stroke-width="3.6" stroke-linecap="round"/><line x1="701.2" y1="741.5" x2="689.8" y2="761.6" stroke="#fff" stroke-width="2.2" stroke-linecap="round"/><line x1="692.8" y1="765.0" x2="700.1" y2="790.2" stroke="#737b85" stroke-width="3.6" stroke-linecap="round"/><line x1="692.8" y1="765.0" x2="700.1" y2="790.2" stroke="#fff" stroke-width="2.2" stroke-linecap="round"/><ellipse cx="705.8" cy="766.2" rx="5" ry="2.8" fill="#fff" stroke="#737b85" stroke-width="0.9" transform="rotate(25 705.8 766.2)"/><path d="M652.0,769.6C654.3,800.5 677.2,821.1 687.5,768.5" fill="none" stroke="#59616b" stroke-width="1.5"/><rect x="649.2" y="763.2" width="5.6" height="6" rx="1" fill="#2e3640"/><rect x="650.0" y="760.2" width="1.1" height="3.2" fill="#2e3640"/><rect x="652.9" y="760.2" width="1.1" height="3.2" fill="#2e3640"/><circle cx="585.8" cy="673.8" r="12.100000000000001" fill="#fff" opacity="0.5"/><circle cx="585.8" cy="673.8" r="11.200000000000001" fill="#fff"/><circle cx="585.8" cy="673.8" r="9.8" fill="#27479a"/><text x="585.8" y="678.6999999999999" font-size="13.6" font-weight="bold" fill="#fff" text-anchor="middle">7</text><circle cx="840" cy="673.8" r="12.100000000000001" fill="#fff" opacity="0.5"/><circle cx="840" cy="673.8" r="11.200000000000001" fill="#fff"/><circle cx="840" cy="673.8" r="9.8" fill="#27479a"/><text x="840" y="678.6999999999999" font-size="13.6" font-weight="bold" fill="#fff" text-anchor="middle">8</text><circle cx="713.7" cy="843.4" r="12.100000000000001" fill="#fff" opacity="0.5"/><circle cx="713.7" cy="843.4" r="11.200000000000001" fill="#fff"/><circle cx="713.7" cy="843.4" r="9.8" fill="#27479a"/><text x="713.7" y="848.3" font-size="13.6" font-weight="bold" fill="#fff" text-anchor="middle">9</text><rect x="65.3" y="884.3" width="48.8" height="9.9" fill="#fff" stroke="#322a2d" stroke-width="1.1"/><rect x="58.7" y="894.2" width="62.8" height="32.1" fill="#fff" stroke="#322a2d" stroke-width="1.2"/><text x="70" y="892.4" font-size="7.4" font-weight="bold" fill="#322a2d" textLength="39.6" lengthAdjust="spacingAndGlyphs">МАГАЗИН</text><rect x="61.6" y="898.8" width="5.3" height="9.4" rx="0.8" fill="#fff" stroke="#322a2d" stroke-width="1.1"/><rect x="71.7" y="898.8" width="5.3" height="9.4" rx="0.8" fill="#fff" stroke="#322a2d" stroke-width="1.1"/><rect x="81.9" y="898.8" width="5.3" height="9.4" rx="0.8" fill="#fff" stroke="#322a2d" stroke-width="1.1"/><rect x="91.8" y="898.8" width="5.3" height="9.4" rx="0.8" fill="#fff" stroke="#322a2d" stroke-width="1.1"/><rect x="101.9" y="898.8" width="5.3" height="9.4" rx="0.8" fill="#fff" stroke="#322a2d" stroke-width="1.1"/><rect x="112.1" y="898.8" width="5.3" height="9.4" rx="0.8" fill="#fff" stroke="#322a2d" stroke-width="1.1"/><rect x="61.6" y="913.6" width="5.3" height="9.2" rx="0.8" fill="#fff" stroke="#322a2d" stroke-width="1.1"/><rect x="71.7" y="913.6" width="5.3" height="9.2" rx="0.8" fill="#fff" stroke="#322a2d" stroke-width="1.1"/><rect x="101.9" y="913.6" width="5.3" height="9.2" rx="0.8" fill="#fff" stroke="#322a2d" stroke-width="1.1"/><rect x="112.1" y="913.6" width="5.3" height="9.2" rx="0.8" fill="#fff" stroke="#322a2d" stroke-width="1.1"/><path d="M81.6,926.3V913.8H98.8V926.3M90.2,913.8V926.3" fill="none" stroke="#322a2d" stroke-width="1.2"/><rect x="199.3" y="918.4" width="5" height="2.4" fill="#322a2d"/><rect x="252.39999999999998" y="918.4" width="5" height="2.4" fill="#322a2d"/><rect x="194.3" y="900.8" width="68.09999999999997" height="18.600000000000023" rx="1.6" fill="#fff" stroke="#322a2d" stroke-width="1.4"/><g transform="translate(200.29,904.71) scale(1.0193,0.9817)"><path fill-rule="evenodd" d="M0,0H5.6C11.2,0 11.2,10.8 5.6,10.8H0ZM2.8,2.5V8.3H5.2C7.9,8.3 7.9,2.5 5.2,2.5Z" fill="#1c1c1c"/><path d="M8.6,0H11.6L13.7,6.9L16,0H18.8L15.2,10.8H12.1Z" fill="#1c1c1c"/><path d="M17.6,0H21.2C25.6,0 25.8,4.9 23,5.4C26.2,5.9 26,10.8 21.2,10.8H15.9L16.7,8.4H20.9C22.9,8.4 22.9,6.5 20.9,6.5H18.6V4.3H20.7C22.5,4.3 22.5,2.4 20.7,2.4H16.8Z" fill="#1c1c1c"/></g><rect x="226.79" y="904.71" width="18.11" height="10.60" fill="#979797"/><text x="228.24" y="914.67" font-size="13.83" font-weight="bold" fill="#d2d2d2" textLength="15.21" lengthAdjust="spacingAndGlyphs">T2</text><circle cx="254.57" cy="906.38" r="1.8" fill="#7a7a7a" stroke="#322a2d" stroke-width="0.8"/><circle cx="254.57" cy="913.82" r="1.8" fill="#7a7a7a" stroke="#322a2d" stroke-width="0.8"/><circle cx="32.7" cy="906.6" r="12.100000000000001" fill="#fff" opacity="0.5"/><circle cx="32.7" cy="906.6" r="11.200000000000001" fill="#fff"/><circle cx="32.7" cy="906.6" r="9.8" fill="#c6394b"/><path d="M27.30,900.80H29.90V912.40H27.63V903.93L25.60,905.67V903.58Z" fill="#fff"/><text x="30.30" y="912.40" font-size="16.2" font-weight="bold" fill="#fff" textLength="10.00" lengthAdjust="spacingAndGlyphs">0</text><circle cx="288.3" cy="906.6" r="12.100000000000001" fill="#fff" opacity="0.5"/><circle cx="288.3" cy="906.6" r="11.200000000000001" fill="#fff"/><circle cx="288.3" cy="906.6" r="9.8" fill="#c6394b"/><path d="M284.66,900.80H287.25V912.40H284.98V903.93L282.96,905.67V903.58Z" fill="#fff"/><path d="M290.45,900.80H293.04V912.40H290.78V903.93L288.75,905.67V903.58Z" fill="#fff"/><rect x="614.9" y="1008.8" width="61.80000000000007" height="35.200000000000045" rx="1.5" fill="#322a2d"/><rect x="615.8" y="1009.6999999999999" width="60.00000000000007" height="33.40000000000005" rx="1" fill="#fff"/><rect x="616.6" y="1010.5" width="58.40000000000007" height="31.800000000000047" fill="#322a2d"/><rect x="618.1" y="1012.1999999999999" width="55.40000000000007" height="27.200000000000045" fill="#fff"/><rect x="617.5" y="1040.4" width="56.600000000000065" height="1.6" fill="#fff"/><ellipse cx="645.8" cy="1048.2" rx="15.76" ry="2.3" fill="#fff" stroke="#322a2d" stroke-width="1.3"/><rect x="643.6999999999999" y="1043.8" width="4.2" height="4.2" fill="#fff" stroke="#322a2d" stroke-width="1.1"/><rect x="624.75" y="1017.64" width="48.75" height="21.76" fill="#a6aaae"/><rect x="630.60" y="1012.60" width="3.88" height="4.90" fill="#b9bcc0"/><rect x="627.19" y="1020.69" width="26.81" height="1.5" fill="#d9dbde"/><rect x="626.70" y="1025.47" width="39.00" height="6.53" fill="#f4f4f4"/><rect x="628.16" y="1027.65" width="16.58" height="1.5" fill="#333"/><rect x="626.70" y="1035.05" width="18.53" height="1.6" fill="#dfe1e4"/><rect x="645.22" y="1035.92" width="20.48" height="0.8" fill="#c9ccd0"/><rect x="712.7" y="1008.8" width="61.69999999999993" height="35.200000000000045" rx="1.5" fill="#322a2d"/><rect x="713.6" y="1009.6999999999999" width="59.899999999999935" height="33.40000000000005" rx="1" fill="#fff"/><rect x="714.4000000000001" y="1010.5" width="58.29999999999993" height="31.800000000000047" fill="#322a2d"/><rect x="715.9000000000001" y="1012.1999999999999" width="55.29999999999993" height="27.200000000000045" fill="#fff"/><rect x="715.3000000000001" y="1040.4" width="56.49999999999993" height="1.6" fill="#fff"/><ellipse cx="743.55" cy="1048.2" rx="15.73" ry="2.3" fill="#fff" stroke="#322a2d" stroke-width="1.3"/><rect x="741.4499999999999" y="1043.8" width="4.2" height="4.2" fill="#fff" stroke="#322a2d" stroke-width="1.1"/><rect x="722.54" y="1017.64" width="48.66" height="21.76" fill="#a6aaae"/><rect x="728.38" y="1012.60" width="3.87" height="4.90" fill="#b9bcc0"/><rect x="724.97" y="1020.69" width="26.77" height="1.5" fill="#d9dbde"/><rect x="724.48" y="1025.47" width="38.93" height="6.53" fill="#f4f4f4"/><rect x="725.94" y="1027.65" width="16.55" height="1.5" fill="#333"/><rect x="724.48" y="1035.05" width="18.49" height="1.6" fill="#dfe1e4"/><rect x="742.97" y="1035.92" width="20.44" height="0.8" fill="#c9ccd0"/><path d="M621.5,1046V1082Q621.5,1093.5 636,1093.5" fill="none" stroke="#322a2d" stroke-width="2.1" stroke-dasharray="2.1 2.1"/><circle cx="645.6" cy="1074.30" r="14.40" fill="none" stroke="#322a2d" stroke-width="1.25"/><path d="M626.00,1056.5L644.20,1089.20M665.20,1056.5L647.00,1089.20" stroke="#322a2d" stroke-width="1.25" fill="none"/><path d="M635.80,1095.80C635.80,1089.70 640.21,1088.70 645.6,1088.70C650.99,1088.70 655.40,1089.70 655.40,1095.80Q655.40,1097 654.20,1097H637.00Q635.80,1097 635.80,1095.80Z" fill="#fff" stroke="#322a2d" stroke-width="1.25"/><path d="M718.5,1046V1079" fill="none" stroke="#322a2d" stroke-width="2.1" stroke-dasharray="2.1 2.1"/><rect x="717.7" y="1094.5" width="5" height="2.4" fill="#322a2d"/><rect x="759" y="1094.5" width="5" height="2.4" fill="#322a2d"/><rect x="712.7" y="1080.5" width="56.299999999999955" height="15.0" rx="1.6" fill="#fff" stroke="#322a2d" stroke-width="1.4"/><g transform="translate(717.65,1083.65) scale(0.8427,0.7917)"><path fill-rule="evenodd" d="M0,0H5.6C11.2,0 11.2,10.8 5.6,10.8H0ZM2.8,2.5V8.3H5.2C7.9,8.3 7.9,2.5 5.2,2.5Z" fill="#1c1c1c"/><path d="M8.6,0H11.6L13.7,6.9L16,0H18.8L15.2,10.8H12.1Z" fill="#1c1c1c"/><path d="M17.6,0H21.2C25.6,0 25.8,4.9 23,5.4C26.2,5.9 26,10.8 21.2,10.8H15.9L16.7,8.4H20.9C22.9,8.4 22.9,6.5 20.9,6.5H18.6V4.3H20.7C22.5,4.3 22.5,2.4 20.7,2.4H16.8Z" fill="#1c1c1c"/></g><rect x="739.63" y="1083.65" width="14.90" height="8.55" fill="#979797"/><text x="740.82" y="1091.69" font-size="11.15" font-weight="bold" fill="#d2d2d2" textLength="12.52" lengthAdjust="spacingAndGlyphs">T2</text><circle cx="762.53" cy="1085.00" r="1.8" fill="#7a7a7a" stroke="#322a2d" stroke-width="0.8"/><circle cx="762.53" cy="1091.00" r="1.8" fill="#7a7a7a" stroke="#322a2d" stroke-width="0.8"/><path d="M771,1083.5C780,1083 786,1078.5 796,1078" fill="none" stroke="#322a2d" stroke-width="2.1" stroke-dasharray="2.1 2.1"/><circle cx="807.2" cy="1056.96" r="14.93" fill="none" stroke="#322a2d" stroke-width="1.25"/><path d="M786.87,1038.5L805.75,1072.39M827.53,1038.5L808.65,1072.39" stroke="#322a2d" stroke-width="1.25" fill="none"/><path d="M797.04,1079.30C797.04,1072.89 801.61,1071.89 807.2,1071.89C812.79,1071.89 817.36,1072.89 817.36,1079.30Q817.36,1080.5 816.16,1080.5H798.24Q797.04,1080.5 797.04,1079.30Z" fill="#fff" stroke="#322a2d" stroke-width="1.25"/><path d="M632.4,1128.5C632.4,1136.5 644.5,1132.8 644.5,1140.8M644.5,1150.8C644.5,1158.8 632.4,1154.3 632.4,1162.8" fill="none" stroke="#2b3442" stroke-width="1.15"/><path d="M644.5,1128.5C644.5,1136.5 644.5,1132.8 644.5,1140.8M644.5,1150.8C644.5,1158.8 644.5,1154.3 644.5,1162.8" fill="none" stroke="#2b3442" stroke-width="1.15"/><path d="M656.8,1128.5C656.8,1136.5 644.5,1132.8 644.5,1140.8M644.5,1150.8C644.5,1158.8 656.8,1154.3 656.8,1162.8" fill="none" stroke="#2b3442" stroke-width="1.15"/><path d="M644.5,1140.3V1151.3" stroke="#2b3442" stroke-width="1.6"/><rect x="631.3" y="1111.5" width="2.2" height="3.4" rx="0.8" fill="#fff" stroke="#322a2d" stroke-width="0.9"/><rect x="629.9" y="1114.7" width="5" height="9.5" rx="1.8" fill="#fff" stroke="#322a2d" stroke-width="1"/><rect x="631.1999999999999" y="1118.7" width="2.4" height="5" fill="#777"/><path d="M630.6999999999999,1124.1L631.4,1129.1H633.4L634.1,1124.1Z" fill="#322a2d"/><rect x="631.3" y="1176.7" width="2.2" height="3.4" rx="0.8" fill="#fff" stroke="#322a2d" stroke-width="0.9"/><rect x="629.9" y="1167.3" width="5" height="9.5" rx="1.8" fill="#fff" stroke="#322a2d" stroke-width="1"/><rect x="631.1999999999999" y="1167.8999999999999" width="2.4" height="5" fill="#777"/><path d="M630.6999999999999,1167.3L631.4,1162.3H633.4L634.1,1167.3Z" fill="#322a2d"/><rect x="643.4" y="1111.5" width="2.2" height="3.4" rx="0.8" fill="#fff" stroke="#322a2d" stroke-width="0.9"/><rect x="642.0" y="1114.7" width="5" height="9.5" rx="1.8" fill="#fff" stroke="#322a2d" stroke-width="1"/><rect x="643.3" y="1118.7" width="2.4" height="5" fill="#777"/><path d="M642.8,1124.1L643.5,1129.1H645.5L646.2,1124.1Z" fill="#322a2d"/><rect x="643.4" y="1176.7" width="2.2" height="3.4" rx="0.8" fill="#fff" stroke="#322a2d" stroke-width="0.9"/><rect x="642.0" y="1167.3" width="5" height="9.5" rx="1.8" fill="#fff" stroke="#322a2d" stroke-width="1"/><rect x="643.3" y="1167.8999999999999" width="2.4" height="5" fill="#777"/><path d="M642.8,1167.3L643.5,1162.3H645.5L646.2,1167.3Z" fill="#322a2d"/><rect x="655.6999999999999" y="1111.5" width="2.2" height="3.4" rx="0.8" fill="#fff" stroke="#322a2d" stroke-width="0.9"/><rect x="654.3" y="1114.7" width="5" height="9.5" rx="1.8" fill="#fff" stroke="#322a2d" stroke-width="1"/><rect x="655.5999999999999" y="1118.7" width="2.4" height="5" fill="#777"/><path d="M655.0999999999999,1124.1L655.8,1129.1H657.8L658.5,1124.1Z" fill="#322a2d"/><rect x="655.6999999999999" y="1176.7" width="2.2" height="3.4" rx="0.8" fill="#fff" stroke="#322a2d" stroke-width="0.9"/><rect x="654.3" y="1167.3" width="5" height="9.5" rx="1.8" fill="#fff" stroke="#322a2d" stroke-width="1"/><rect x="655.5999999999999" y="1167.8999999999999" width="2.4" height="5" fill="#777"/><path d="M655.0999999999999,1167.3L655.8,1162.3H657.8L658.5,1167.3Z" fill="#322a2d"/><path d="M720,1127V1163" stroke="#2b3442" stroke-width="1.3"/><rect x="716.6" y="1111.5" width="6.8" height="12" rx="1.4" fill="#fff" stroke="#322a2d" stroke-width="1.1"/><rect x="718.4" y="1123.4" width="3.2" height="3.8" fill="#322a2d"/><path d="M716.6,1115.5H723.4" stroke="#322a2d" stroke-width="0.8"/><rect x="716.6" y="1166.5" width="6.8" height="13" rx="1.4" fill="#fff" stroke="#322a2d" stroke-width="1.1"/><rect x="718.4" y="1162.8" width="3.2" height="3.8" fill="#322a2d"/><path d="M716.6,1175.5H723.4" stroke="#322a2d" stroke-width="0.8"/><path d="M793.9,1135.5V1155.6" stroke="#2b3442" stroke-width="1.2"/><path d="M790,1112.9L794.1,1111.5L804.4,1123.9L801.9,1126.6L797.2,1128.3L790.5,1128L788.2,1124.2Z" fill="#fff" stroke="#2b3442" stroke-width="1.2" stroke-linejoin="round"/><path d="M795,1112.6L803.4,1123.6" stroke="#2b3442" stroke-width="2"/><rect x="791.0" y="1128.3" width="5.8" height="5.6" fill="#2b3442"/><rect x="792.1999999999999" y="1133.9" width="3.4" height="1.8" fill="#fff" stroke="#2b3442" stroke-width="0.7"/><rect x="792.1999999999999" y="1154.4" width="3.4" height="1.8" fill="#fff" stroke="#2b3442" stroke-width="0.7"/><rect x="791.0" y="1156.2" width="5.8" height="5.6" fill="#2b3442"/><path d="M790.5,1161.8H798.2L800.3,1165.9L798.8,1176.7L793.9,1179.5L784.7,1165.9L785.9,1164Z" fill="#fff" stroke="#2b3442" stroke-width="1.2" stroke-linejoin="round"/><path d="M785.6,1166.6L793.2,1178.6" stroke="#2b3442" stroke-width="2"/><circle cx="586" cy="1020.2" r="12.100000000000001" fill="#fff" opacity="0.5"/><circle cx="586" cy="1020.2" r="11.200000000000001" fill="#fff"/><circle cx="586" cy="1020.2" r="9.8" fill="#27479a"/><path d="M580.60,1014.40H583.20V1026.00H580.93V1017.53L578.90,1019.27V1017.18Z" fill="#fff"/><text x="583.60" y="1026.00" font-size="16.2" font-weight="bold" fill="#fff" textLength="10.00" lengthAdjust="spacingAndGlyphs">2</text><circle cx="840.4" cy="1020.2" r="12.100000000000001" fill="#fff" opacity="0.5"/><circle cx="840.4" cy="1020.2" r="11.200000000000001" fill="#fff"/><circle cx="840.4" cy="1020.2" r="9.8" fill="#27479a"/><path d="M835.00,1014.40H837.60V1026.00H835.33V1017.53L833.30,1019.27V1017.18Z" fill="#fff"/><text x="838.00" y="1026.00" font-size="16.2" font-weight="bold" fill="#fff" textLength="10.00" lengthAdjust="spacingAndGlyphs">3</text><circle cx="586.2" cy="1133" r="12.100000000000001" fill="#fff" opacity="0.5"/><circle cx="586.2" cy="1133" r="11.200000000000001" fill="#fff"/><circle cx="586.2" cy="1133" r="9.8" fill="#27479a"/><path d="M580.80,1127.20H583.40V1138.80H581.13V1130.33L579.10,1132.07V1129.98Z" fill="#fff"/><text x="583.80" y="1138.80" font-size="16.2" font-weight="bold" fill="#fff" textLength="10.00" lengthAdjust="spacingAndGlyphs">4</text></svg>
<div class="t" style="left:123.29px;top:25.80px;font-size:23.4px;font-weight:700;font-style:normal;color:#175892;-webkit-text-stroke:0.35px #175892;transform:scaleX(1.0053);">ПОШАГОВАЯ ИНСТРУКЦИЯ НАСТРОЙКИ ПРИЕМА</div>
<div class="t" style="left:137.32px;top:57.80px;font-size:23.4px;font-weight:700;font-style:normal;color:#175892;-webkit-text-stroke:0.35px #175892;transform:scaleX(0.9849);">ЦИФРОВОГО ЭФИРНОГО ТЕЛЕВИДЕНИЯ (ЦЭТВ)</div>
<div class="t" style="left:64.00px;top:94.50px;font-size:14px;font-weight:400;font-style:normal;color:#c22a3a;-webkit-text-stroke:0.25px #c22a3a;transform:scaleX(0.9846);">С 14 октября 2019 года в Республике Татарстан будет отключено аналоговое телевещание федеральных телеканалов,</div>
<div class="t" style="left:64.00px;top:111.50px;font-size:14px;font-weight:400;font-style:normal;color:#c22a3a;-webkit-text-stroke:0.25px #c22a3a;transform:scaleX(0.9958);">вошедших в цифровой мультиплекс. Региональные и муниципальные телеканалы продолжат вещать в аналоговом</div>
<div class="t" style="left:64.00px;top:128.50px;font-size:14px;font-weight:400;font-style:normal;color:#c22a3a;-webkit-text-stroke:0.25px #c22a3a;transform:scaleX(0.9762);">формате. Успейте подготовиться к переходу на ЦЭТВ.</div>
<div class="t" style="left:31.76px;top:180.70px;font-size:17.6px;font-weight:700;font-style:normal;color:#175892;-webkit-text-stroke:0.3px #175892;transform:scaleX(0.9440);">Где можно смотреть ЦЭТВ</div>
<div class="t" style="left:60.00px;top:217.15px;font-size:9.7px;font-weight:400;font-style:italic;color:#333333;-webkit-text-stroke:0.15px #333333;transform:scaleX(1.0215);">Подсказка: Если на своих экранах телевизора рядом с логотипом каналов Первый, Россия 1, НТВ,</div>
<div class="t" style="left:60.50px;top:230.15px;font-size:9.7px;font-weight:400;font-style:italic;color:#333333;-webkit-text-stroke:0.15px #333333;transform:scaleX(1.0154);">5 Канал Вы видите букуву «А», то Вы смотрите аналоговое телевещание.</div>
<div class="t" style="left:32.60px;top:244.15px;font-size:11.7px;font-weight:400;font-style:normal;color:#41557a;-webkit-text-stroke:0.24px #41557a;transform:scaleX(0.8421);">1.</div>
<div class="t" style="left:45.80px;top:244.15px;font-size:11.7px;font-weight:400;font-style:normal;color:#41557a;-webkit-text-stroke:0.24px #41557a;transform:scaleX(1.0421);">Любому телевизору нужна всеволновая антенна, которая принимает сигнал цифрового</div>
<div class="t" style="left:45.20px;top:260.15px;font-size:11.7px;font-weight:400;font-style:normal;color:#41557a;-webkit-text-stroke:0.24px #41557a;transform:scaleX(1.0227);">эфирного телевидения. В новых телевизорах стандарта DVB-T2 антенна подключается</div>
<div class="t" style="left:45.20px;top:276.15px;font-size:11.7px;font-weight:400;font-style:normal;color:#41557a;-webkit-text-stroke:0.24px #41557a;transform:scaleX(1.0407);">сразу к телевизору.</div>
<div class="t" style="left:32.80px;top:293.15px;font-size:11.7px;font-weight:400;font-style:normal;color:#41557a;-webkit-text-stroke:0.24px #41557a;transform:scaleX(1.0267);">2. В телевизорах без поддержки стандарта DVB-T2 антенна подключается к приставке</div>
<div class="t" style="left:43.90px;top:308.15px;font-size:11.7px;font-weight:400;font-style:normal;color:#41557a;-webkit-text-stroke:0.24px #41557a;transform:scaleX(1.0223);">стандарта DVB-T2, а приставка к телевизору. Приставка нужна всем старым телевизорам</div>
<div class="t" style="left:43.90px;top:324.15px;font-size:11.7px;font-weight:400;font-style:normal;color:#41557a;-webkit-text-stroke:0.24px #41557a;transform:scaleX(1.0367);">с кинескопом.</div>
<div class="t" style="left:32.80px;top:342.15px;font-size:11.7px;font-weight:400;font-style:normal;color:#41557a;-webkit-text-stroke:0.24px #41557a;transform:scaleX(1.0364);">3. Приставка нужна некоторым моделям новых плоских телевизоров, обычно до 2013 года</div>
<div class="t" style="left:43.90px;top:358.15px;font-size:11.7px;font-weight:400;font-style:normal;color:#41557a;-webkit-text-stroke:0.24px #41557a;transform:scaleX(1.0261);">выпуска. В паспорте к телевизору надо прочитать, поддерживает ли он стандарт DVB-T2.</div>
<div class="t" style="left:43.90px;top:373.15px;font-size:11.7px;font-weight:400;font-style:normal;color:#41557a;-webkit-text-stroke:0.24px #41557a;transform:scaleX(1.0214);">Не нашли - нужна приставка.</div>
<div class="t" style="left:60.30px;top:393.15px;font-size:9.7px;font-weight:400;font-style:italic;color:#333333;-webkit-text-stroke:0.15px #333333;transform:scaleX(1.0418);">Если непонятно: посмотрите модель телевизора в интернете, спросите специалиста,</div>
<div class="t" style="left:60.30px;top:407.15px;font-size:9.7px;font-weight:400;font-style:italic;color:#333333;-webkit-text-stroke:0.15px #333333;transform:scaleX(1.0208);">спросите соседа.</div>
<div class="t" style="left:44.24px;top:418.70px;font-size:17.6px;font-weight:700;font-style:normal;color:#175892;-webkit-text-stroke:0.3px #175892;transform:scaleX(0.9635);">Перед походом в магазин</div>
<div class="t" style="left:336.80px;top:455.80px;font-size:10.4px;font-weight:400;font-style:italic;color:#1c1c1c;-webkit-text-stroke:0.15px #1c1c1c;transform:scaleX(1.0065);">Подсказка: все проблемы от антенны.</div>
<div class="t" style="left:307.00px;top:483.90px;font-size:11.2px;font-weight:400;font-style:normal;color:#46557a;-webkit-text-stroke:0.24px #46557a;transform:scaleX(1.0603);">4. Рассмотрите телевизор сзади. Запишите его названием и модель. Сфотографируйте выходы.</div>
<div class="t" style="left:307.00px;top:521.90px;font-size:11.2px;font-weight:400;font-style:normal;color:#46557a;-webkit-text-stroke:0.24px #46557a;transform:scaleX(1.0487);">5. Стандартные выходы называются тюльпан (колокольчики) (А), HDMI (Б) или SCART (В)</div>
<div class="t" style="left:307.00px;top:560.90px;font-size:11.2px;font-weight:400;font-style:normal;color:#41557a;-webkit-text-stroke:0.24px #41557a;transform:scaleX(1.0673);">6. Если у вас в доме имеется коллективная антенна. Спросите управляющую компанию,</div>
<div class="t" style="left:307.00px;top:576.90px;font-size:11.2px;font-weight:400;font-style:normal;color:#41557a;-webkit-text-stroke:0.24px #41557a;transform:scaleX(1.0822);">принимает ли  она цифровой сигнал. Принимает - включайте автонастройку на телевизоре</div>
<div class="t" style="left:307.00px;top:594.90px;font-size:11.2px;font-weight:400;font-style:normal;color:#41557a;-webkit-text-stroke:0.24px #41557a;transform:scaleX(1.0483);">с DVB-T2 или  автонастройку на приставке.</div>
<div class="t" style="left:33.20px;top:632.00px;font-size:10px;font-weight:700;font-style:normal;color:#bf2f45;-webkit-text-stroke:0.2px #bf2f45;transform:scaleX(1.0412);">Нет коллективной антенны – ставим свою:</div>
<div class="t" style="left:56.80px;top:652.15px;font-size:9.7px;font-weight:400;font-style:italic;color:#333333;-webkit-text-stroke:0.15px #333333;transform:scaleX(1.0504);">Подсказка: Определить в какой стороне и на каком расстоянии находится передатчик можно позвонив</div>
<div class="t" style="left:55.00px;top:666.15px;font-size:9.7px;font-weight:400;font-style:italic;color:#333333;-webkit-text-stroke:0.15px #333333;transform:scaleX(1.0204);">по номеру 8 800 220 2002, либо посмотреть на сайте «карта.ртрс.рф»</div>
<div class="t" style="left:32.80px;top:684.15px;font-size:11.7px;font-weight:400;font-style:normal;color:#41557a;-webkit-text-stroke:0.24px #41557a;transform:scaleX(1.0231);">7. Если антенна телебашни находится в прямой видимости от вашего дома, то подойдет</div>
<div class="t" style="left:43.90px;top:699.15px;font-size:11.7px;font-weight:400;font-style:normal;color:#41557a;-webkit-text-stroke:0.24px #41557a;transform:scaleX(1.0247);">комнатная антенна.</div>
<div class="t" style="left:32.80px;top:718.15px;font-size:11.7px;font-weight:400;font-style:normal;color:#41557a;-webkit-text-stroke:0.24px #41557a;transform:scaleX(1.0111);">8. В остальных случаях необходима внешняя антенна.</div>
<div class="t" style="left:33.20px;top:742.15px;font-size:11.7px;font-weight:400;font-style:normal;color:#41557a;-webkit-text-stroke:0.24px #41557a;transform:scaleX(1.0232);">9. А в случаях большой удаленности от телебашни вам понадобится внешняя антенна</div>
<div class="t" style="left:43.90px;top:757.15px;font-size:11.7px;font-weight:400;font-style:normal;color:#41557a;-webkit-text-stroke:0.24px #41557a;transform:scaleX(1.0077);">с усилителем.</div>
<div class="t" style="left:33.20px;top:772.15px;font-size:11.7px;font-weight:400;font-style:normal;color:#41557a;-webkit-text-stroke:0.24px #41557a;transform:scaleX(1.0200);">Антенна должна быть ДМВ-диапазона для приема ЦЭТВ или всеволновая, чтобы смотреть</div>
<div class="t" style="left:33.20px;top:788.15px;font-size:11.7px;font-weight:400;font-style:normal;color:#41557a;-webkit-text-stroke:0.24px #41557a;transform:scaleX(1.0251);">региональные телеканалы в аналоговом формате и ЦЭТВ одновременно.</div>
<div class="t" style="left:56.50px;top:807.15px;font-size:9.7px;font-weight:400;font-style:italic;color:#333333;-webkit-text-stroke:0.15px #333333;transform:scaleX(1.0477);">Внимание! Мощная антенна с усилителем, установленная близко к телебашне, будет</div>
<div class="t" style="left:56.50px;top:820.15px;font-size:9.7px;font-weight:400;font-style:italic;color:#333333;-webkit-text-stroke:0.15px #333333;transform:scaleX(1.0529);">плохо работать. Это как кричать рядом с ухом.</div>
<div class="t" style="left:32.63px;top:833.70px;font-size:17.6px;font-weight:700;font-style:normal;color:#175892;-webkit-text-stroke:0.3px #175892;transform:scaleX(0.9702);">Идем в магазин</div>
<div class="t" style="left:333.00px;top:870.80px;font-size:10.4px;font-weight:400;font-style:italic;color:#1c1c1c;-webkit-text-stroke:0.15px #1c1c1c;transform:scaleX(0.9866);">Подсказка:  магазин  обязан  принять  все  товары  назад, если они не подошли.</div>
<div class="t" style="left:307.30px;top:903.80px;font-size:11.4px;font-weight:400;font-style:normal;color:#46557a;-webkit-text-stroke:0.24px #46557a;transform:scaleX(1.0623);">10. Спросите соседа, какую антенну купил он. Поговорите с продавцом ближайшего</div>
<div class="t" style="left:307.00px;top:919.80px;font-size:11.4px;font-weight:400;font-style:normal;color:#46557a;-webkit-text-stroke:0.24px #46557a;transform:scaleX(1.0534);">радиомагазина. Убедитесь, что продавец поменяет вам антенну, если она не подойдет.</div>
<div class="t" style="left:307.30px;top:952.80px;font-size:11.4px;font-weight:400;font-style:normal;color:#46557a;-webkit-text-stroke:0.24px #46557a;transform:scaleX(1.0433);">11. Подойдет приставка, поддерживающая стандарт DVB-T2</div>
<div class="t" style="left:32.40px;top:967.70px;font-size:17.6px;font-weight:700;font-style:normal;color:#175892;-webkit-text-stroke:0.3px #175892;transform:scaleX(0.9469);">Дома</div>
<div class="t" style="left:45.80px;top:999.00px;font-size:10px;font-weight:700;font-style:normal;color:#bf2f45;-webkit-text-stroke:0.2px #bf2f45;transform:scaleX(1.0285);">Телевизор с DVB-T2</div>
<div class="t" style="left:33.60px;top:1014.15px;font-size:11.7px;font-weight:400;font-style:normal;color:#3c4352;-webkit-text-stroke:0.24px #3c4352;transform:scaleX(1.0296);">12. Подключаем антенну к телевизору, включаем «Автонастройку»</div>
<div class="t" style="left:46.40px;top:1031.00px;font-size:10px;font-weight:700;font-style:normal;color:#bf2f45;-webkit-text-stroke:0.2px #bf2f45;transform:scaleX(1.0234);">Телевизор без DVB-T2</div>
<div class="t" style="left:33.60px;top:1047.15px;font-size:11.7px;font-weight:400;font-style:normal;color:#3c4352;-webkit-text-stroke:0.24px #3c4352;transform:scaleX(1.0019);">13. Подключаем приставку к телевизору ТВ тюльпанами (А) или HDMI (Б) или SCART (В).</div>
<div class="t" style="left:33.60px;top:1073.15px;font-size:11.7px;font-weight:400;font-style:normal;color:#3c4352;-webkit-text-stroke:0.24px #3c4352;transform:scaleX(1.0258);">14. Подключаем антенну к приставке, включаем «Автопоиск» на приставке. Для работы</div>
<div class="t" style="left:51.50px;top:1089.15px;font-size:11.7px;font-weight:400;font-style:normal;color:#41557a;-webkit-text-stroke:0.24px #41557a;transform:scaleX(1.0364);">приставки надо переключить телевизор в режим AV или ВХОД. Эти кнопки на пульте от</div>
<div class="t" style="left:51.50px;top:1104.15px;font-size:11.7px;font-weight:400;font-style:normal;color:#41557a;-webkit-text-stroke:0.24px #41557a;transform:scaleX(1.0135);">телевизора.</div>
<div class="t" style="left:60.50px;top:1128.15px;font-size:9.7px;font-weight:400;font-style:italic;color:#333333;-webkit-text-stroke:0.15px #333333;transform:scaleX(1.0224);">Подсказка: антенну лучше ставить у окна. «Цифре»  часто  хватает  и  отраженного  сигнала  от  дома</div>
<div class="t" style="left:60.50px;top:1143.15px;font-size:9.7px;font-weight:400;font-style:italic;color:#333333;-webkit-text-stroke:0.15px #333333;transform:scaleX(1.1010);">напротив.</div>
<div class="t" style="left:33.60px;top:1169.10px;font-size:21.8px;font-weight:700;font-style:normal;color:#c22a3a;-webkit-text-stroke:0.35px #c22a3a;transform:scaleX(0.9726);">Телефон бесплатной горячей линии: 8 800 220-2002</div>
<div class="t" style="left:620.00px;top:215.80px;font-size:4.4px;font-weight:700;font-style:normal;color:#2a2326;-webkit-text-stroke:0.25px #2a2326;transform:scaleX(0.8471);">ЦИФРОВОЙ ТЕЛЕВИЗОР</div>
<div class="t" style="left:620.00px;top:221.80px;font-size:4.4px;font-weight:700;font-style:normal;color:#2a2326;-webkit-text-stroke:0.25px #2a2326;transform:scaleX(0.8358);">С РЕСИВЕРОМ DVB-T2</div>
<div class="t" style="left:784.20px;top:219.80px;font-size:4.4px;font-weight:700;font-style:normal;color:#2a2326;-webkit-text-stroke:0.25px #2a2326;transform:scaleX(0.8605);">ДМВ АНТЕННА</div>
<div class="t" style="left:620.00px;top:289.80px;font-size:4.4px;font-weight:700;font-style:normal;color:#2a2326;-webkit-text-stroke:0.25px #2a2326;transform:scaleX(0.9883);">АНАЛОГОВЫЙ</div>
<div class="t" style="left:620.00px;top:294.80px;font-size:4.4px;font-weight:700;font-style:normal;color:#2a2326;-webkit-text-stroke:0.25px #2a2326;transform:scaleX(1.0350);">ТЕЛЕВИЗОР</div>
<div class="t" style="left:784.20px;top:290.80px;font-size:4.4px;font-weight:700;font-style:normal;color:#2a2326;-webkit-text-stroke:0.25px #2a2326;transform:scaleX(0.8605);">ДМВ АНТЕННА</div>
<div class="t" style="left:704.40px;top:312.80px;font-size:4.4px;font-weight:700;font-style:normal;color:#2a2326;-webkit-text-stroke:0.25px #2a2326;transform:scaleX(0.8715);">ЦИФРОВАЯ ПРИСТАВКА</div>
<div class="t" style="left:704.40px;top:318.80px;font-size:4.4px;font-weight:700;font-style:normal;color:#2a2326;-webkit-text-stroke:0.25px #2a2326;transform:scaleX(0.8895);">DVB-T2</div>
<div class="t" style="left:620.00px;top:369.80px;font-size:4.4px;font-weight:700;font-style:normal;color:#2a2326;-webkit-text-stroke:0.25px #2a2326;transform:scaleX(0.8471);">ЦИФРОВОЙ ТЕЛЕВИЗОР</div>
<div class="t" style="left:620.00px;top:374.80px;font-size:4.4px;font-weight:700;font-style:normal;color:#2a2326;-webkit-text-stroke:0.25px #2a2326;transform:scaleX(0.8900);">БЕЗ РЕСИВЕРА DVB-T2</div>
<div class="t" style="left:784.20px;top:371.80px;font-size:4.4px;font-weight:700;font-style:normal;color:#2a2326;-webkit-text-stroke:0.25px #2a2326;transform:scaleX(0.8605);">ДМВ АНТЕННА</div>
<div class="t" style="left:704.40px;top:393.80px;font-size:4.4px;font-weight:700;font-style:normal;color:#2a2326;-webkit-text-stroke:0.25px #2a2326;transform:scaleX(0.8715);">ЦИФРОВАЯ ПРИСТАВКА</div>
<div class="t" style="left:704.40px;top:398.80px;font-size:4.4px;font-weight:700;font-style:normal;color:#2a2326;-webkit-text-stroke:0.25px #2a2326;transform:scaleX(0.8895);">DVB-T2</div>
<div class="t" style="left:103.70px;top:465.20px;font-size:7.6px;font-weight:400;font-style:normal;color:#2a2326;-webkit-text-stroke:0.1px #2a2326;transform:scaleX(0.8987);">Model: 11DD32VV34B SE</div>
<div class="t" style="left:103.70px;top:473.20px;font-size:7.6px;font-weight:400;font-style:normal;color:#2a2326;-webkit-text-stroke:0.1px #2a2326;transform:scaleX(0.8661);">Type No.: BA_CCM</div>
<div class="t" style="left:103.70px;top:482.20px;font-size:7.6px;font-weight:400;font-style:normal;color:#2a2326;-webkit-text-stroke:0.1px #2a2326;transform:scaleX(0.8809);">AC 100-240V 50Hz 205W</div>
<div class="t" style="left:103.70px;top:505.90px;font-size:4.2px;font-weight:700;font-style:normal;color:#2a2326;-webkit-text-stroke:0.25px #2a2326;transform:scaleX(1.0399);">S/N 273HBJ8748GY52K0NG</div>
<div class="t" style="left:63.60px;top:544.80px;font-size:4.4px;font-weight:700;font-style:normal;color:#1a2452;-webkit-text-stroke:0.25px #1a2452;transform:scaleX(0.7000);">А</div>
<div class="t" style="left:172.80px;top:544.80px;font-size:4.4px;font-weight:700;font-style:normal;color:#1a2452;-webkit-text-stroke:0.25px #1a2452;transform:scaleX(0.8667);">Б</div>
<div class="t" style="left:212.60px;top:544.80px;font-size:4.4px;font-weight:700;font-style:normal;color:#1a2452;-webkit-text-stroke:0.25px #1a2452;transform:scaleX(0.8667);">В</div>
<div class="t" style="left:96.00px;top:555.60px;font-size:3.8px;font-weight:700;font-style:normal;color:#2a2326;-webkit-text-stroke:0.25px #2a2326;transform:scaleX(0.9487);">COMPONENT /AV IN</div>
<div class="t" style="left:183.50px;top:555.60px;font-size:3.8px;font-weight:700;font-style:normal;color:#2a2326;-webkit-text-stroke:0.25px #2a2326;transform:scaleX(1.0366);">HDMI</div>
<div class="t" style="left:222.00px;top:555.60px;font-size:3.8px;font-weight:700;font-style:normal;color:#2a2326;-webkit-text-stroke:0.25px #2a2326;transform:scaleX(0.9337);">SCART/EXT (RGB)</div>
<div class="t" style="left:68.00px;top:564.70px;font-size:3.6px;font-weight:700;font-style:normal;color:#2a2326;-webkit-text-stroke:0.25px #2a2326;transform:scaleX(1.0000);">R</div>
<div class="t" style="left:74.50px;top:564.70px;font-size:3.6px;font-weight:700;font-style:normal;color:#2a2326;-webkit-text-stroke:0.25px #2a2326;transform:scaleX(1.0607);">AUDIO</div>
<div class="t" style="left:90.50px;top:564.70px;font-size:3.6px;font-weight:700;font-style:normal;color:#2a2326;-webkit-text-stroke:0.25px #2a2326;transform:scaleX(0.7667);">L</div>
<div class="t" style="left:111.00px;top:564.70px;font-size:3.6px;font-weight:700;font-style:normal;color:#2a2326;-webkit-text-stroke:0.25px #2a2326;transform:scaleX(0.9097);">Pr</div>
<div class="t" style="left:133.00px;top:564.70px;font-size:3.6px;font-weight:700;font-style:normal;color:#2a2326;-webkit-text-stroke:0.25px #2a2326;transform:scaleX(0.8338);">Pb</div>
<div class="t" style="left:148.00px;top:564.70px;font-size:3.6px;font-weight:700;font-style:normal;color:#2a2326;-webkit-text-stroke:0.25px #2a2326;transform:scaleX(1.2176);">Y/VIDEO</div>
<div class="t" style="left:633.80px;top:1143.80px;font-size:4.4px;font-weight:700;font-style:normal;color:#1a2452;-webkit-text-stroke:0.25px #1a2452;transform:scaleX(0.7000);">А</div>
<div class="t" style="left:710.00px;top:1143.80px;font-size:4.4px;font-weight:700;font-style:normal;color:#1a2452;-webkit-text-stroke:0.25px #1a2452;transform:scaleX(0.8667);">Б</div>
<div class="t" style="left:783.40px;top:1143.80px;font-size:4.4px;font-weight:700;font-style:normal;color:#1a2452;-webkit-text-stroke:0.25px #1a2452;transform:scaleX(0.8667);">В</div>
</body></html>
